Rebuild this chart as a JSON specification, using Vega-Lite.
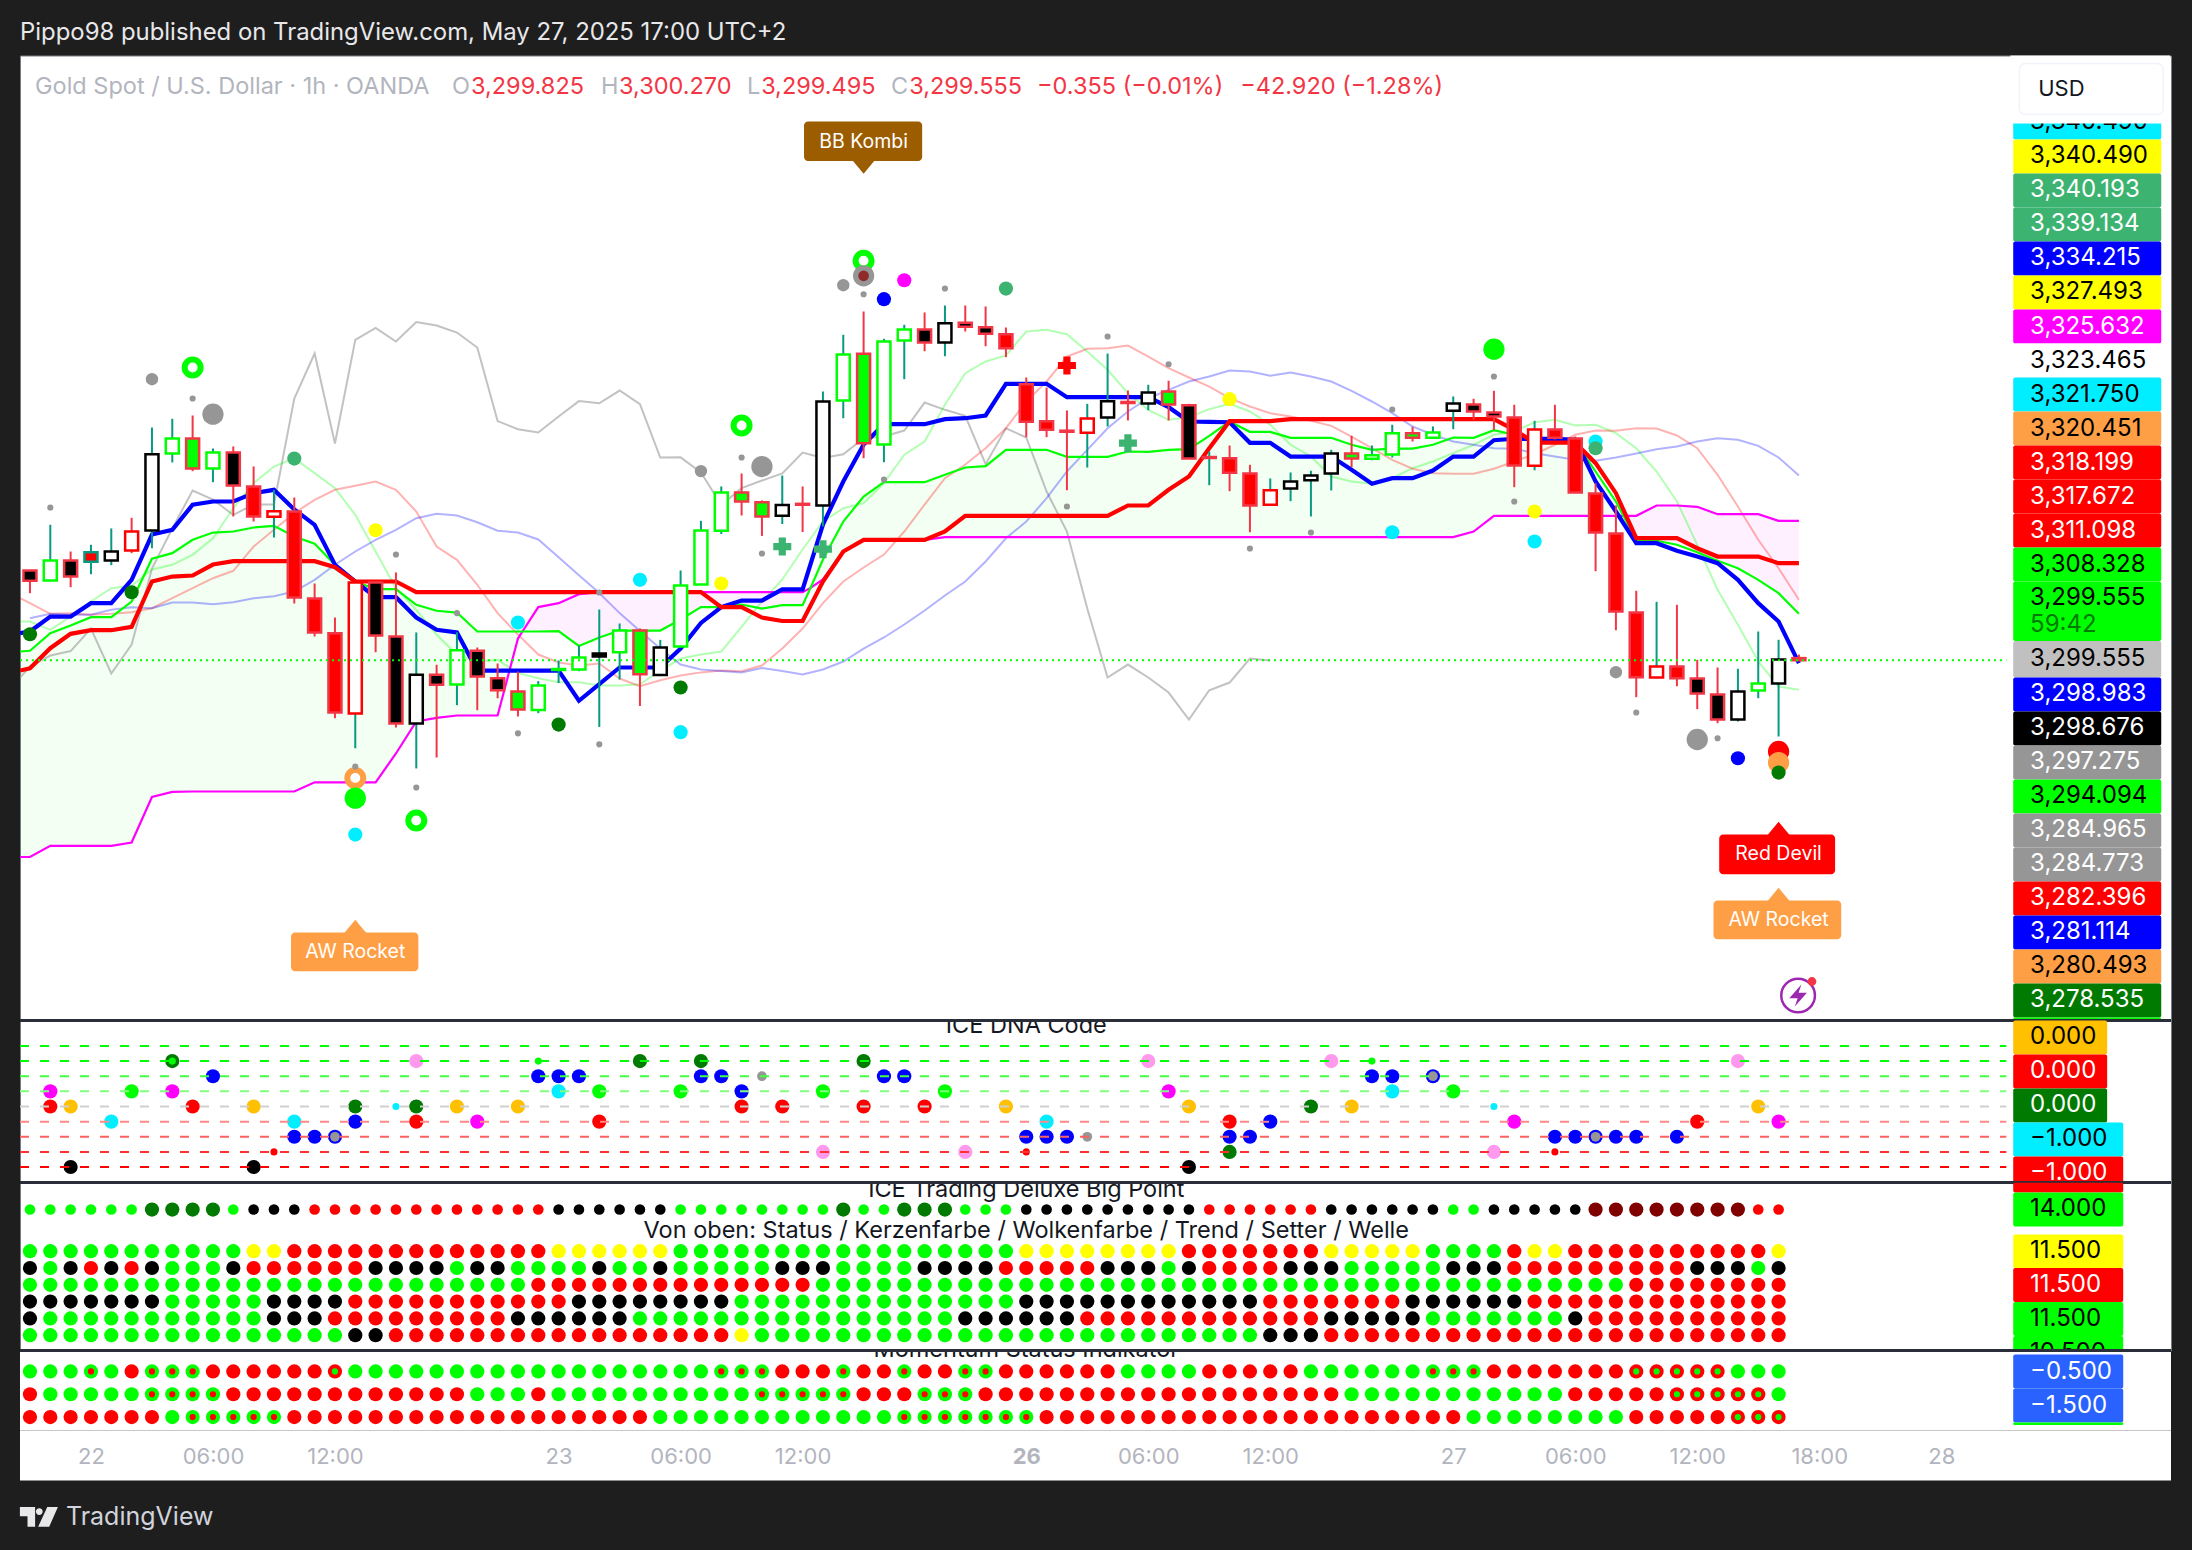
{"$schema":"https://vega.github.io/schema/vega-lite/v6.json","background":"#1e1e1e","padding":{"left":18,"right":20,"top":1.5,"bottom":0},"spacing":0,"bounds":"flush","resolve":{"scale":{"stroke":"independent","size":"independent"}},"config":{"view":{"stroke":null},"circle":{"opacity":1},"point":{"opacity":1},"text":{"font":"Inter"},"range":{"category":["#00ff00","#007a00","#ff0000","#800000","#000000","#ffffff","#ffff00","#0000ff","#ff00ff","#00eeff","#ffc000","#ff99ee","#969696","#c0c0c0","#3cb371","#ff9f45","#f23645","#089981","#9c5c00","#2962ff","#8e2a2a","#b2b5be","#00ff00","#ff0000","#000000","#ffff00","#007a00","#800000"]}},
"datasets":{
"levels":[{"row":"s1","level":6},{"row":"s2","level":5},{"row":"s3","level":4},{"row":"s4","level":3},{"row":"s5","level":2},{"row":"s6","level":1},{"row":"m1","level":3},{"row":"m2","level":2},{"row":"m3","level":1}],
"bars":[{"i":0,"o":3310.78,"h":3310.78,"l":3307.94,"c":3309.49,"f":"black","e":"rose","w":"rose"},{"i":1,"o":3309.53,"h":3316.49,"l":3309.53,"c":3312.03,"f":"white","e":"lime","w":"teal"},{"i":2,"o":3312.03,"h":3313.15,"l":3308.69,"c":3310.03,"f":"black","e":"rose","w":"rose"},{"i":3,"o":3311.86,"h":3313.99,"l":3310.31,"c":3313.06,"f":"red","e":"teal","w":"teal"},{"i":4,"o":3312.03,"h":3316.03,"l":3311.44,"c":3313.15,"f":"white","e":"black","w":"teal"},{"i":5,"o":3315.65,"h":3317.36,"l":3312.94,"c":3313.28,"f":"white","e":"red","w":"rose"},{"i":6,"o":3315.78,"h":3328.65,"l":3313.56,"c":3325.31,"f":"white","e":"black","w":"teal"},{"i":7,"o":3325.4,"h":3329.74,"l":3324.28,"c":3327.28,"f":"white","e":"lime","w":"teal"},{"i":8,"o":3327.28,"h":3330.15,"l":3323.19,"c":3323.53,"f":"lime","e":"rose","w":"rose"},{"i":9,"o":3323.53,"h":3326.03,"l":3321.81,"c":3325.53,"f":"white","e":"lime","w":"teal"},{"i":10,"o":3325.53,"h":3326.28,"l":3317.53,"c":3321.4,"f":"black","e":"rose","w":"rose"},{"i":11,"o":3321.28,"h":3323.78,"l":3316.9,"c":3317.53,"f":"red","e":"rose","w":"rose"},{"i":12,"o":3317.49,"h":3320.86,"l":3314.9,"c":3318.19,"f":"white","e":"red","w":"teal"},{"i":13,"o":3318.15,"h":3319.9,"l":3306.65,"c":3307.4,"f":"red","e":"rose","w":"rose"},{"i":14,"o":3307.28,"h":3309.15,"l":3302.53,"c":3303.03,"f":"red","e":"rose","w":"rose"},{"i":15,"o":3302.94,"h":3304.9,"l":3292.31,"c":3293.03,"f":"red","e":"rose","w":"rose"},{"i":16,"o":3292.9,"h":3309.28,"l":3288.56,"c":3309.28,"f":"white","e":"red","w":"teal"},{"i":17,"o":3309.28,"h":3309.4,"l":3300.56,"c":3302.65,"f":"black","e":"rose","w":"rose"},{"i":18,"o":3302.53,"h":3310.53,"l":3291.15,"c":3291.65,"f":"black","e":"rose","w":"rose"},{"i":19,"o":3291.65,"h":3303.03,"l":3286.03,"c":3297.74,"f":"white","e":"black","w":"teal"},{"i":20,"o":3297.74,"h":3298.99,"l":3287.4,"c":3296.49,"f":"black","e":"rose","w":"rose"},{"i":21,"o":3296.53,"h":3303.06,"l":3293.94,"c":3300.81,"f":"white","e":"lime","w":"teal"},{"i":22,"o":3300.74,"h":3301.15,"l":3293.31,"c":3297.53,"f":"black","e":"rose","w":"rose"},{"i":23,"o":3297.31,"h":3299.15,"l":3294.81,"c":3295.81,"f":"black","e":"rose","w":"rose"},{"i":24,"o":3295.65,"h":3298.15,"l":3292.53,"c":3293.4,"f":"lime","e":"rose","w":"rose"},{"i":25,"o":3293.35,"h":3296.95,"l":3292.95,"c":3296.4,"f":"white","e":"lime","w":"teal"},{"i":26,"o":3298.34,"h":3299.53,"l":3296.71,"c":3298.46,"f":"lime","e":"lime","w":"teal"},{"i":27,"o":3298.4,"h":3301.4,"l":3298.19,"c":3299.9,"f":"white","e":"lime","w":"teal"},{"i":28,"o":3300.03,"h":3305.9,"l":3291.22,"c":3300.4,"f":"black","e":"black","w":"teal"},{"i":29,"o":3300.56,"h":3304.15,"l":3297.15,"c":3303.28,"f":"white","e":"lime","w":"teal"},{"i":30,"o":3303.28,"h":3303.53,"l":3293.84,"c":3297.8,"f":"lime","e":"rose","w":"rose"},{"i":31,"o":3297.7,"h":3302.1,"l":3297.7,"c":3301.15,"f":"white","e":"black","w":"teal"},{"i":32,"o":3301.28,"h":3310.78,"l":3301.28,"c":3308.91,"f":"white","e":"lime","w":"teal"},{"i":33,"o":3309.03,"h":3316.98,"l":3309.03,"c":3315.78,"f":"white","e":"lime","w":"teal"},{"i":34,"o":3315.74,"h":3321.28,"l":3315.34,"c":3320.53,"f":"white","e":"lime","w":"teal"},{"i":35,"o":3320.53,"h":3322.9,"l":3317.65,"c":3319.4,"f":"lime","e":"rose","w":"rose"},{"i":36,"o":3319.3,"h":3319.53,"l":3315.1,"c":3317.53,"f":"lime","e":"rose","w":"rose"},{"i":37,"o":3317.61,"h":3322.65,"l":3316.58,"c":3318.95,"f":"white","e":"black","w":"teal"},{"i":38,"o":3319.11,"h":3321.28,"l":3315.59,"c":3318.99,"f":"rose","e":"rose","w":"rose"},{"i":39,"o":3318.9,"h":3333.15,"l":3316.28,"c":3331.9,"f":"white","e":"black","w":"teal"},{"i":40,"o":3332.03,"h":3340.24,"l":3329.81,"c":3337.78,"f":"white","e":"lime","w":"teal"},{"i":41,"o":3337.86,"h":3343.15,"l":3324.81,"c":3326.69,"f":"lime","e":"rose","w":"rose"},{"i":42,"o":3326.53,"h":3339.74,"l":3324.31,"c":3339.4,"f":"white","e":"lime","w":"teal"},{"i":43,"o":3339.53,"h":3341.49,"l":3334.69,"c":3340.9,"f":"white","e":"lime","w":"teal"},{"i":44,"o":3340.9,"h":3343.03,"l":3338.19,"c":3339.28,"f":"black","e":"rose","w":"rose"},{"i":45,"o":3339.28,"h":3343.9,"l":3337.56,"c":3341.69,"f":"white","e":"black","w":"teal"},{"i":46,"o":3341.74,"h":3343.9,"l":3340.65,"c":3341.24,"f":"black","e":"rose","w":"rose"},{"i":47,"o":3341.19,"h":3343.78,"l":3338.81,"c":3340.36,"f":"black","e":"rose","w":"rose"},{"i":48,"o":3340.31,"h":3341.15,"l":3337.44,"c":3338.56,"f":"red","e":"rose","w":"rose"},{"i":49,"o":3334.06,"h":3334.9,"l":3327.44,"c":3329.36,"f":"red","e":"rose","w":"rose"},{"i":50,"o":3329.44,"h":3333.65,"l":3327.44,"c":3328.36,"f":"red","e":"rose","w":"rose"},{"i":51,"o":3328.25,"h":3330.78,"l":3320.81,"c":3328.12,"f":"rose","e":"rose","w":"rose"},{"i":52,"o":3327.99,"h":3331.61,"l":3323.65,"c":3329.78,"f":"white","e":"red","w":"teal"},{"i":53,"o":3329.9,"h":3337.9,"l":3328.78,"c":3331.94,"f":"white","e":"black","w":"teal"},{"i":54,"o":3331.84,"h":3333.28,"l":3329.53,"c":3331.71,"f":"rose","e":"rose","w":"rose"},{"i":55,"o":3331.65,"h":3333.99,"l":3330.81,"c":3333.03,"f":"white","e":"black","w":"teal"},{"i":56,"o":3333.15,"h":3334.49,"l":3329.53,"c":3331.53,"f":"lime","e":"rose","w":"rose"},{"i":57,"o":3331.44,"h":3331.61,"l":3324.78,"c":3324.78,"f":"black","e":"rose","w":"rose"},{"i":58,"o":3324.96,"h":3325.65,"l":3321.44,"c":3324.84,"f":"rose","e":"rose","w":"teal"},{"i":59,"o":3324.81,"h":3326.4,"l":3320.69,"c":3322.99,"f":"red","e":"rose","w":"rose"},{"i":60,"o":3322.9,"h":3323.99,"l":3315.56,"c":3318.9,"f":"red","e":"rose","w":"rose"},{"i":61,"o":3318.99,"h":3322.28,"l":3318.99,"c":3320.81,"f":"white","e":"red","w":"teal"},{"i":62,"o":3321.03,"h":3323.03,"l":3319.44,"c":3321.9,"f":"white","e":"black","w":"teal"},{"i":63,"o":3322.06,"h":3323.24,"l":3317.53,"c":3322.65,"f":"white","e":"black","w":"teal"},{"i":64,"o":3322.9,"h":3325.86,"l":3320.78,"c":3325.4,"f":"white","e":"black","w":"teal"},{"i":65,"o":3325.4,"h":3327.61,"l":3323.69,"c":3324.78,"f":"lime","e":"rose","w":"rose"},{"i":66,"o":3324.74,"h":3326.4,"l":3324.56,"c":3325.19,"f":"white","e":"lime","w":"teal"},{"i":67,"o":3325.28,"h":3328.99,"l":3324.9,"c":3327.94,"f":"white","e":"lime","w":"teal"},{"i":68,"o":3327.94,"h":3328.74,"l":3326.9,"c":3327.36,"f":"lime","e":"rose","w":"rose"},{"i":69,"o":3327.36,"h":3328.78,"l":3327.36,"c":3328.03,"f":"white","e":"lime","w":"teal"},{"i":70,"o":3330.74,"h":3332.53,"l":3328.44,"c":3331.65,"f":"white","e":"black","w":"teal"},{"i":71,"o":3331.53,"h":3332.24,"l":3329.61,"c":3330.65,"f":"black","e":"rose","w":"rose"},{"i":72,"o":3330.53,"h":3333.24,"l":3328.36,"c":3330.03,"f":"black","e":"rose","w":"rose"},{"i":73,"o":3329.9,"h":3331.49,"l":3321.19,"c":3323.9,"f":"red","e":"rose","w":"rose"},{"i":74,"o":3323.86,"h":3329.49,"l":3323.31,"c":3328.4,"f":"white","e":"red","w":"teal"},{"i":75,"o":3328.4,"h":3331.49,"l":3327.15,"c":3327.36,"f":"red","e":"rose","w":"rose"},{"i":76,"o":3327.28,"h":3327.53,"l":3320.53,"c":3320.53,"f":"red","e":"rose","w":"rose"},{"i":77,"o":3320.4,"h":3321.69,"l":3310.69,"c":3315.53,"f":"red","e":"rose","w":"rose"},{"i":78,"o":3315.4,"h":3318.9,"l":3303.31,"c":3305.65,"f":"red","e":"rose","w":"rose"},{"i":79,"o":3305.53,"h":3308.24,"l":3294.94,"c":3297.44,"f":"red","e":"rose","w":"rose"},{"i":80,"o":3297.4,"h":3306.86,"l":3297.4,"c":3298.78,"f":"white","e":"red","w":"teal"},{"i":81,"o":3298.78,"h":3306.49,"l":3296.31,"c":3297.31,"f":"red","e":"rose","w":"rose"},{"i":82,"o":3297.28,"h":3299.61,"l":3293.44,"c":3295.4,"f":"black","e":"rose","w":"rose"},{"i":83,"o":3295.28,"h":3298.65,"l":3291.69,"c":3292.15,"f":"black","e":"rose","w":"rose"},{"i":84,"o":3292.15,"h":3298.49,"l":3291.9,"c":3295.65,"f":"white","e":"black","w":"teal"},{"i":85,"o":3295.78,"h":3303.15,"l":3294.81,"c":3296.65,"f":"white","e":"lime","w":"teal"},{"i":86,"o":3296.65,"h":3302.11,"l":3290.03,"c":3299.65,"f":"white","e":"black","w":"teal"},{"i":87,"o":3299.825,"h":3300.27,"l":3299.495,"c":3299.555,"f":"rose","e":"rose","w":"rose"}],
"lines":[{"i":-0.49,"blue":3302.94,"lime":3300.65,"red":3298.27,"mag":3274.96,"lg":3304.4,"lr":3307.31,"gray":3297.4},
{"i":0,"blue":3303.15,"lime":3300.74,"red":3298.56,"mag":3274.96,"lg":3304.4,"lr":3306.69,"lb":3304.81,"gray":3298.77},
{"i":1,"blue":3305.02,"lime":3302.94,"red":3301.06,"mag":3276.35,"lg":3303.36,"lr":3305.36,"lb":3305.36,"gray":3300.15},
{"i":2,"blue":3305.02,"lime":3303.9,"red":3302.86,"mag":3276.35,"lg":3305.02,"lr":3305.44,"lb":3305.24,"gray":3300.7},
{"i":3,"blue":3306.69,"lime":3304.94,"red":3303.31,"mag":3276.35,"lg":3306.9,"lr":3305.24,"lb":3305.24,"gray":3303.52},
{"i":4,"blue":3306.69,"lime":3304.94,"red":3303.31,"mag":3276.35,"lg":3308.56,"lr":3305.36,"lb":3305.86,"gray":3297.9},
{"i":5,"blue":3309.61,"lime":3306.9,"red":3303.74,"mag":3276.77,"lg":3308.86,"lr":3305.56,"lb":3306.19,"gray":3301.52},
{"i":6,"blue":3315.27,"lime":3312.24,"red":3309.4,"mag":3282.47,"lg":3310.9,"lr":3306.06,"lb":3306.06,"gray":3311.02},
{"i":7,"blue":3315.86,"lime":3312.94,"red":3310.02,"mag":3283.11,"lg":3311.49,"lr":3307.31,"lb":3306.77,"gray":3316.02},
{"i":8,"blue":3318.99,"lime":3314.61,"red":3310.15,"mag":3283.15,"lg":3312.74,"lr":3308.56,"lb":3306.77,"gray":3320.77},
{"i":9,"blue":3319.4,"lime":3315.52,"red":3311.52,"mag":3283.15,"lg":3314.81,"lr":3309.81,"lb":3306.56,"gray":3319.65},
{"i":10,"blue":3319.4,"lime":3315.65,"red":3311.94,"mag":3283.15,"lg":3318.56,"lr":3310.74,"lb":3306.81,"gray":3317.72},
{"i":11,"blue":3320.44,"lime":3316.15,"red":3311.94,"mag":3283.15,"lg":3321.69,"lr":3313.77,"lb":3307.31,"gray":3319.02},
{"i":12,"blue":3320.86,"lime":3316.36,"red":3311.94,"mag":3283.15,"lg":3323.77,"lr":3315.86,"lb":3307.56,"gray":3319.02},
{"i":13,"blue":3318.4,"lime":3315.02,"red":3311.94,"mag":3283.15,"lg":3324.81,"lr":3317.94,"lb":3308.15,"gray":3332.27},
{"i":14,"blue":3316.49,"lime":3314.11,"red":3311.94,"mag":3284.3,"lg":3322.94,"lr":3319.61,"lb":3309.61,"gray":3337.9},
{"i":15,"blue":3311.49,"lime":3311.49,"red":3311.19,"mag":3284.3,"lg":3321.06,"lr":3320.86,"lb":3311.49,"gray":3326.65},
{"i":16,"blue":3309.4,"lime":3309.4,"red":3309.4,"mag":3284.3,"lg":3317.74,"lr":3321.36,"lb":3313.15,"gray":3339.6},
{"i":17,"blue":3307.44,"lime":3308.44,"red":3309.4,"mag":3284.3,"lg":3313.15,"lr":3321.9,"lb":3314.61,"gray":3341.11},
{"i":18,"blue":3307.44,"lime":3308.44,"red":3309.4,"mag":3287.9,"lg":3308.56,"lr":3320.86,"lb":3315.86,"gray":3339.4},
{"i":19,"blue":3304.9,"lime":3306.49,"red":3308.07,"mag":3291.9,"lg":3305.86,"lr":3318.15,"lb":3317.31,"gray":3341.84},
{"i":20,"blue":3303.36,"lime":3305.74,"red":3308.07,"mag":3292.36,"lg":3302.74,"lr":3313.77,"lb":3317.86,"gray":3341.4},
{"i":21,"blue":3303.02,"lime":3305.52,"red":3308.07,"mag":3292.65,"lg":3300.24,"lr":3312.11,"lb":3317.65,"gray":3340.52},
{"i":22,"blue":3298.27,"lime":3303.15,"red":3308.07,"mag":3292.65,"lg":3299.4,"lr":3308.99,"lb":3316.81,"gray":3338.65},
{"i":23,"blue":3298.27,"lime":3303.15,"red":3308.07,"mag":3292.65,"lg":3299.61,"lr":3305.44,"lb":3315.74,"gray":3329.45},
{"i":24,"blue":3298.27,"lime":3303.15,"red":3308.07,"mag":3302.27,"lg":3297.94,"lr":3302.77,"lb":3315.52,"gray":3328.44},
{"i":24.22,"lime":3303.15,"mag":3303.15},
{"i":25,"blue":3298.27,"lime":3303.15,"red":3308.07,"mag":3306.2,"lg":3297.3,"lr":3300.27,"lb":3314.65,"gray":3328.02},
{"i":26,"blue":3298.27,"lime":3303.19,"red":3308.07,"mag":3306.69,"lg":3296.81,"lr":3299.27,"lb":3312.42,"gray":3330.02},
{"i":27,"blue":3294.49,"lime":3301.35,"red":3308.07,"mag":3307.82,"lg":3296.81,"lr":3298.9,"lb":3310.19,"gray":3331.95},
{"i":28,"blue":3296.56,"lime":3302.4,"red":3308.07,"mag":3308.07,"lg":3296.4,"lr":3299.15,"lb":3307.96,"gray":3331.67},
{"i":29,"blue":3298.65,"lime":3303.27,"red":3308.07,"mag":3308.07,"lg":3296.4,"lr":3297.27,"lb":3305.45,"gray":3333.27},
{"i":30,"blue":3298.65,"lime":3303.27,"red":3308.07,"mag":3308.07,"lg":3296.56,"lr":3296.31,"lb":3303.21,"gray":3331.56},
{"i":31,"blue":3298.65,"lime":3303.27,"red":3308.07,"mag":3308.07,"lg":3298.27,"lr":3297.05,"lb":3301.02,"gray":3324.9},
{"i":32,"blue":3301.02,"lime":3304.65,"red":3308.07,"mag":3308.07,"lg":3299.77,"lr":3297.65,"lb":3299.02,"gray":3324.92},
{"i":33,"blue":3304.22,"lime":3306.2,"red":3308.07,"mag":3308.07,"lg":3300.27,"lr":3298.04,"lb":3298.4,"gray":3323.02},
{"i":34,"blue":3306.2,"lime":3306.2,"red":3306.2,"mag":3308.07,"lg":3300.65,"lr":3298.27,"lb":3298.2,"gray":3318.95},
{"i":35,"blue":3307.02,"lime":3306.52,"red":3306.2,"mag":3308.07,"lg":3303.72,"lr":3298.19,"lb":3298.02,"gray":3321.07},
{"i":36,"blue":3307.02,"lime":3306.02,"red":3304.9,"mag":3308.07,"lg":3306.9,"lr":3298.9,"lb":3298.59,"gray":3322.02},
{"i":37,"blue":3308.42,"lime":3306.45,"red":3304.46,"mag":3308.07,"lg":3309.65,"lr":3301.02,"lb":3298.2,"gray":3322.9},
{"i":38,"blue":3308.42,"lime":3306.45,"red":3304.46,"mag":3308.07,"lg":3313.4,"lr":3303.52,"lb":3297.77,"gray":3325.52},
{"i":38.39,"lime":3308.6,"mag":3308.6},
{"i":39,"blue":3316.52,"lime":3312.15,"red":3309.4,"mag":3309.65,"lg":3316.9,"lr":3306.69,"lb":3298.4,"gray":3324.84},
{"i":40,"blue":3321.9,"lime":3316.9,"red":3313.15,"mag":3313.15,"lg":3318.56,"lr":3309.4,"lb":3299.4,"gray":3325.31},
{"i":41,"blue":3326.52,"lime":3320.02,"red":3314.61,"mag":3314.61,"lg":3319.19,"lr":3311.15,"lb":3301.02,"gray":3327.31},
{"i":42,"blue":3329.06,"lime":3321.81,"red":3314.61,"mag":3314.61,"lg":3321.69,"lr":3312.77,"lb":3302.4,"gray":3327.52},
{"i":43,"blue":3329.06,"lime":3321.81,"red":3314.61,"mag":3314.61,"lg":3325.24,"lr":3315.65,"lb":3304.02,"gray":3328.27},
{"i":44,"blue":3329.06,"lime":3321.81,"red":3314.61,"mag":3314.61,"lg":3326.9,"lr":3319.02,"lb":3305.77,"gray":3331.77},
{"i":45,"blue":3329.69,"lime":3322.74,"red":3315.65,"mag":3314.94,"lg":3331.49,"lr":3322.31,"lb":3307.65,"gray":3330.86},
{"i":46,"blue":3329.81,"lime":3323.65,"red":3317.61,"mag":3314.94,"lg":3335.44,"lr":3324.02,"lb":3309.4,"gray":3330.11},
{"i":47,"blue":3330.15,"lime":3323.81,"red":3317.61,"mag":3314.94,"lg":3336.9,"lr":3326.06,"lb":3311.9,"gray":3324.06},
{"i":48,"blue":3334.11,"lime":3325.86,"red":3317.61,"mag":3314.94,"lg":3337.65,"lr":3328.56,"lb":3314.81,"gray":3328.56},
{"i":49,"blue":3334.11,"lime":3325.86,"red":3317.61,"mag":3314.94,"lg":3340.65,"lr":3331.9,"lb":3316.9,"gray":3327.4},
{"i":50,"blue":3334.11,"lime":3325.86,"red":3317.61,"mag":3314.94,"lg":3340.86,"lr":3334.4,"lb":3319.81,"gray":3320.65},
{"i":51,"blue":3332.44,"lime":3324.99,"red":3317.61,"mag":3314.94,"lg":3340.31,"lr":3337.52,"lb":3323.15,"gray":3315.65},
{"i":52,"blue":3332.44,"lime":3324.99,"red":3317.61,"mag":3314.94,"lg":3338.15,"lr":3338.49,"lb":3325.86,"gray":3306.02},
{"i":53,"blue":3332.44,"lime":3324.99,"red":3317.61,"mag":3314.94,"lg":3335.86,"lr":3338.56,"lb":3328.56,"gray":3297.4},
{"i":54,"blue":3332.44,"lime":3325.65,"red":3318.9,"mag":3314.94,"lg":3332.94,"lr":3338.9,"lb":3330.65,"gray":3299.02},
{"i":55,"blue":3332.44,"lime":3325.61,"red":3318.9,"mag":3314.94,"lg":3330.86,"lr":3337.52,"lb":3332.31,"gray":3297.4},
{"i":56,"blue":3331.19,"lime":3325.86,"red":3320.86,"mag":3314.94,"lg":3329.61,"lr":3336.06,"lb":3333.36,"gray":3295.52},
{"i":57,"blue":3329.4,"lime":3325.94,"red":3322.52,"mag":3314.94,"lg":3329.94,"lr":3334.9,"lb":3334.4,"gray":3292.15},
{"i":58,"blue":3329.36,"lime":3327.61,"red":3326.06,"mag":3314.94,"lg":3330.94,"lr":3333.77,"lb":3335.02,"gray":3295.8},
{"i":59,"blue":3329.31,"lime":3329.4,"red":3329.44,"mag":3314.94,"lg":3331.61,"lr":3332.31,"lb":3335.77,"gray":3296.77},
{"i":60,"blue":3326.74,"lime":3328.11,"red":3329.44,"mag":3314.94,"lg":3330.65,"lr":3331.27,"lb":3335.65,"gray":3299.77},
{"i":61,"blue":3326.74,"lime":3328.11,"red":3329.44,"mag":3314.94,"lg":3328.99,"lr":3330.44,"lb":3335.11,"gray":3299.52},
{"i":62,"blue":3325.02,"lime":3327.36,"red":3329.69,"mag":3314.94,"lg":3326.49,"lr":3330.02,"lb":3335.52},
{"i":63,"blue":3325.02,"lime":3327.36,"red":3329.69,"mag":3314.94,"lg":3325.02,"lr":3329.49,"lb":3335.02},
{"i":64,"blue":3325.02,"lime":3327.36,"red":3329.69,"mag":3314.94,"lg":3322.52,"lr":3328.86,"lb":3334.4},
{"i":65,"blue":3323.36,"lime":3326.49,"red":3329.69,"mag":3314.94,"lg":3321.9,"lr":3327.52,"lb":3333.24},
{"i":66,"blue":3321.61,"lime":3325.86,"red":3329.69,"mag":3314.94,"lg":3321.61,"lr":3326.06,"lb":3331.9},
{"i":67,"blue":3322.31,"lime":3326.02,"red":3329.69,"mag":3314.94,"lg":3322.31,"lr":3324.61,"lb":3330.44},
{"i":68,"blue":3322.31,"lime":3326.02,"red":3329.69,"mag":3314.94,"lg":3323.56,"lr":3323.49,"lb":3328.77},
{"i":69,"blue":3323.27,"lime":3326.49,"red":3329.69,"mag":3314.94,"lg":3324.4,"lr":3322.94,"lb":3327.74},
{"i":70,"blue":3325.02,"lime":3327.4,"red":3329.69,"mag":3314.94,"lg":3325.44,"lr":3322.86,"lb":3326.9},
{"i":71,"blue":3325.02,"lime":3327.36,"red":3329.69,"mag":3315.65,"lg":3326.49,"lr":3322.86,"lb":3326.49},
{"i":72,"blue":3327.06,"lime":3328.31,"red":3329.69,"mag":3317.61,"lg":3327.74,"lr":3323.49,"lb":3326.06},
{"i":73,"blue":3327.24,"lime":3327.74,"red":3328.36,"mag":3317.61,"lg":3328.15,"lr":3324.4,"lb":3325.99},
{"i":74,"blue":3327.24,"lime":3326.99,"red":3326.77,"mag":3317.61,"lg":3329.31,"lr":3325.31,"lb":3325.44},
{"i":75,"blue":3327.24,"lime":3326.99,"red":3326.77,"mag":3317.61,"lg":3329.61,"lr":3326.49,"lb":3325.02},
{"i":76,"blue":3327.11,"lime":3326.9,"red":3326.77,"mag":3317.61,"lg":3328.9,"lr":3327.74,"lb":3324.61},
{"i":77,"blue":3321.9,"lime":3323.15,"red":3324.19,"mag":3317.61,"lg":3328.99,"lr":3328.27,"lb":3324.49},
{"i":78,"blue":3318.15,"lime":3319.4,"red":3320.44,"mag":3317.61,"lg":3327.94,"lr":3328.24,"lb":3324.9},
{"i":78.37,"lime":3317.61,"mag":3317.61},
{"i":79,"blue":3314.19,"lime":3314.61,"red":3314.81,"mag":3317.61,"lg":3326.06,"lr":3328.56,"lb":3325.4},
{"i":80,"blue":3314.19,"lime":3314.49,"red":3314.81,"mag":3318.9,"lg":3323.15,"lr":3328.52,"lb":3325.94},
{"i":81,"blue":3313.24,"lime":3313.99,"red":3314.81,"mag":3318.9,"lg":3319.4,"lr":3327.65,"lb":3326.27},
{"i":82,"blue":3312.52,"lime":3313.06,"red":3313.56,"mag":3318.74,"lg":3313.99,"lr":3326.06,"lb":3326.9},
{"i":83,"blue":3311.69,"lime":3311.99,"red":3312.52,"mag":3317.81,"lg":3308.36,"lr":3322.74,"lb":3327.31},
{"i":84,"blue":3309.61,"lime":3311.06,"red":3312.52,"mag":3317.81,"lg":3303.99,"lr":3318.77,"lb":3327.11},
{"i":85,"blue":3306.69,"lime":3309.61,"red":3312.52,"mag":3317.81,"lg":3299.4,"lr":3314.61,"lb":3326.36},
{"i":86,"blue":3304.4,"lime":3307.94,"red":3311.69,"mag":3316.99,"lg":3296.27,"lr":3311.06,"lb":3324.9},
{"i":87,"blue":3299.19,"lime":3305.36,"red":3311.69,"mag":3316.99,"lg":3295.86,"lr":3307.11,"lb":3322.65}],
"marks":[{"i":1,"p":3318.65,"t":"gray","k":"small"},{"i":8,"p":3332.27,"t":"gray","k":"small"},{"i":18,"p":3312.77,"t":"gray","k":"small"},{"i":21,"p":3305.45,"t":"gray","k":"small"},{"i":35,"p":3324.9,"t":"gray","k":"small"},{"i":36,"p":3312.9,"t":"gray","k":"small"},{"i":42,"p":3322.15,"t":"gray","k":"small"},{"i":41,"p":3345.31,"t":"gray","k":"small"},{"i":45,"p":3346.02,"t":"gray","k":"small"},{"i":24,"p":3290.42,"t":"gray","k":"small"},{"i":28,"p":3289.05,"t":"gray","k":"small"},{"i":16,"p":3286.27,"t":"gray","k":"small"},{"i":19,"p":3283.65,"t":"gray","k":"small"},{"i":28,"p":3308.02,"t":"gray","k":"small"},{"i":53,"p":3340.02,"t":"gray","k":"small"},{"i":51,"p":3318.77,"t":"gray","k":"small"},{"i":56,"p":3336.56,"t":"gray","k":"small"},{"i":60,"p":3313.52,"t":"gray","k":"small"},{"i":63,"p":3315.52,"t":"gray","k":"small"},{"i":67,"p":3330.9,"t":"gray","k":"small"},{"i":72,"p":3335.02,"t":"gray","k":"small"},{"i":73,"p":3319.4,"t":"gray","k":"small"},{"i":79,"p":3293.02,"t":"gray","k":"small"},{"i":83,"p":3289.81,"t":"gray","k":"small"},{"i":6,"p":3334.69,"t":"gray","k":"mid"},{"i":33,"p":3323.2,"t":"gray","k":"mid"},{"i":40,"p":3346.44,"t":"gray","k":"mid"},{"i":78,"p":3298.06,"t":"gray","k":"mid"},{"i":9,"p":3330.31,"t":"gray","k":"large"},{"i":36,"p":3323.77,"t":"gray","k":"large"},{"i":41,"p":3347.61,"t":"gray","k":"large"},{"i":82,"p":3289.65,"t":"gray","k":"large"},{"i":41,"p":3347.61,"t":"wine","k":"inner"},{"i":16,"p":3282.32,"t":"lime","k":"large"},{"i":72,"p":3338.44,"t":"lime","k":"large"},{"i":16,"p":3277.77,"t":"cyan","k":"dot"},{"i":24,"p":3304.27,"t":"cyan","k":"dot"},{"i":30,"p":3309.61,"t":"cyan","k":"dot"},{"i":32,"p":3290.57,"t":"cyan","k":"dot"},{"i":67,"p":3315.56,"t":"cyan","k":"dot"},{"i":74,"p":3314.4,"t":"cyan","k":"dot"},{"i":77,"p":3326.9,"t":"cyan","k":"dot"},{"i":0,"p":3302.81,"t":"green","k":"dot"},{"i":5,"p":3308.06,"t":"green","k":"dot"},{"i":26,"p":3291.52,"t":"green","k":"dot"},{"i":32,"p":3296.15,"t":"green","k":"dot"},{"i":17,"p":3315.81,"t":"yellow","k":"dot"},{"i":34,"p":3309.15,"t":"yellow","k":"dot"},{"i":59,"p":3332.19,"t":"yellow","k":"dot"},{"i":74,"p":3318.15,"t":"yellow","k":"dot"},{"i":13,"p":3324.77,"t":"sea","k":"dot"},{"i":48,"p":3346.02,"t":"sea","k":"dot"},{"i":77,"p":3326.06,"t":"sea","k":"dot"},{"i":43,"p":3347.06,"t":"magenta","k":"dot"},{"i":42,"p":3344.69,"t":"blue","k":"dot"},{"i":84,"p":3287.31,"t":"blue","k":"dot"},{"i":86,"p":3288.15,"t":"red","k":"large"},{"i":86,"p":3286.77,"t":"orange","k":"large"},{"i":86,"p":3285.52,"t":"green","k":"dot"}],
"rings":[{"i":8,"p":3336.15,"t":"lime"},{"i":35,"p":3328.9,"t":"lime"},{"i":41,"p":3349.49,"t":"lime"},{"i":19,"p":3279.52,"t":"lime"},{"i":16,"p":3284.85,"t":"orange"}],
"crosses":[{"i":37,"p":3313.77,"t":"sea"},{"i":39,"p":3313.44,"t":"sea"},{"i":54,"p":3326.69,"t":"sea"},{"i":51,"p":3336.4,"t":"red"}],
"flags":[{"label":"BB Kombi","i":41,"left":38.07,"right":43.88,"top":3366.9,"bot":3361.97,"mid":3364.4,"t":"brown"},{"label":"Red Devil","i":86,"left":83.08,"right":88.78,"top":3277.77,"bot":3272.81,"mid":3275.3,"t":"red"},{"label":"AW Rocket","i":86,"left":82.8,"right":89.08,"top":3269.52,"bot":3264.69,"mid":3267.1,"t":"orange"},{"label":"AW Rocket","i":16,"left":12.84,"right":19.1,"top":3265.52,"bot":3260.67,"mid":3263.1,"t":"orange"}],
"legend":[{"text":"Gold Spot / U.S. Dollar · 1h · OANDA","i":0.25,"ink":"muted"},{"text":"O","i":20.76,"ink":"muted"},{"text":"3,299.825","i":21.69,"ink":"rose"},{"text":"H","i":28.09,"ink":"muted"},{"text":"3,300.270","i":28.97,"ink":"rose"},{"text":"L","i":35.27,"ink":"muted"},{"text":"3,299.495","i":35.96,"ink":"rose"},{"text":"C","i":42.35,"ink":"muted"},{"text":"3,299.555","i":43.24,"ink":"rose"},{"text":"−0.355 (−0.01%)","i":49.53,"ink":"rose"},{"text":"−42.920 (−1.28%)","i":59.52,"ink":"rose"}],
"pricelabels":[{"label":"3,340.490","a":1.47,"b":2.47,"m":1.97,"t":"cyan","ink":"black"},{"label":"3,340.490","a":2.47,"b":3.47,"m":2.97,"t":"yellow","ink":"black"},{"label":"3,340.193","a":3.47,"b":4.47,"m":3.97,"t":"sea","ink":"white"},{"label":"3,339.134","a":4.47,"b":5.47,"m":4.97,"t":"sea","ink":"white"},{"label":"3,334.215","a":5.47,"b":6.47,"m":5.97,"t":"blue","ink":"white"},{"label":"3,327.493","a":6.47,"b":7.47,"m":6.97,"t":"yellow","ink":"black"},{"label":"3,325.632","a":7.47,"b":8.47,"m":7.97,"t":"magenta","ink":"white"},{"label":"3,323.465","a":8.47,"b":9.47,"m":8.97,"t":"white","ink":"black"},{"label":"3,321.750","a":9.47,"b":10.47,"m":9.97,"t":"cyan","ink":"black"},{"label":"3,320.451","a":10.47,"b":11.47,"m":10.97,"t":"orange","ink":"black"},{"label":"3,318.199","a":11.47,"b":12.47,"m":11.97,"t":"red","ink":"white"},{"label":"3,317.672","a":12.47,"b":13.47,"m":12.97,"t":"red","ink":"white"},{"label":"3,311.098","a":13.47,"b":14.47,"m":13.97,"t":"red","ink":"white"},{"label":"3,308.328","a":14.47,"b":15.47,"m":14.97,"t":"lime","ink":"black"},{"label":"3,299.555","a":15.47,"b":17.22,"m":15.94,"t":"lime","ink":"black"},{"label":"3,299.555","a":17.22,"b":18.29,"m":17.75,"t":"silver","ink":"black"},{"label":"3,298.983","a":18.29,"b":19.29,"m":18.79,"t":"blue","ink":"white"},{"label":"3,298.676","a":19.29,"b":20.29,"m":19.79,"t":"black","ink":"white"},{"label":"3,297.275","a":20.29,"b":21.29,"m":20.79,"t":"gray","ink":"white"},{"label":"3,294.094","a":21.29,"b":22.29,"m":21.79,"t":"lime","ink":"black"},{"label":"3,284.965","a":22.29,"b":23.29,"m":22.79,"t":"gray","ink":"white"},{"label":"3,284.773","a":23.29,"b":24.29,"m":23.79,"t":"gray","ink":"white"},{"label":"3,282.396","a":24.29,"b":25.29,"m":24.79,"t":"red","ink":"white"},{"label":"3,281.114","a":25.29,"b":26.29,"m":25.79,"t":"blue","ink":"white"},{"label":"3,280.493","a":26.29,"b":27.29,"m":26.79,"t":"orange","ink":"black"},{"label":"3,278.535","a":27.29,"b":28.29,"m":27.79,"t":"green","ink":"white"},{"label":"","a":28.29,"b":28.38,"m":28.3,"t":"lime","ink":"black"},{"label":"59:42","a":16.75,"b":16.75,"m":16.75,"t":"lime","ink":"green"}],
"dna":[{"i":7,"v":3,"t":"green","k":"dot"},{"i":7,"v":3,"t":"lime","k":"small"},{"i":19,"v":3,"t":"pink","k":"dot"},{"i":25,"v":3,"t":"lime","k":"small"},{"i":30,"v":3,"t":"green","k":"dot"},{"i":33,"v":3,"t":"green","k":"dot"},{"i":41,"v":3,"t":"green","k":"dot"},{"i":55,"v":3,"t":"pink","k":"dot"},{"i":64,"v":3,"t":"pink","k":"dot"},{"i":66,"v":3,"t":"lime","k":"small"},{"i":84,"v":3,"t":"pink","k":"dot"},{"i":9,"v":2,"t":"blue","k":"dot"},{"i":25,"v":2,"t":"blue","k":"dot"},{"i":26,"v":2,"t":"blue","k":"dot"},{"i":27,"v":2,"t":"blue","k":"dot"},{"i":33,"v":2,"t":"blue","k":"dot"},{"i":34,"v":2,"t":"blue","k":"dot"},{"i":36,"v":2,"t":"gray","k":"mid"},{"i":42,"v":2,"t":"blue","k":"dot"},{"i":43,"v":2,"t":"blue","k":"dot"},{"i":66,"v":2,"t":"blue","k":"dot"},{"i":67,"v":2,"t":"blue","k":"dot"},{"i":69,"v":2,"t":"blue","k":"dot"},{"i":69,"v":2,"t":"gray","k":"mid"},{"i":1,"v":1,"t":"magenta","k":"dot"},{"i":5,"v":1,"t":"lime","k":"dot"},{"i":7,"v":1,"t":"magenta","k":"dot"},{"i":26,"v":1,"t":"cyan","k":"dot"},{"i":28,"v":1,"t":"lime","k":"dot"},{"i":32,"v":1,"t":"lime","k":"dot"},{"i":35,"v":1,"t":"blue","k":"dot"},{"i":39,"v":1,"t":"lime","k":"dot"},{"i":45,"v":1,"t":"lime","k":"dot"},{"i":56,"v":1,"t":"magenta","k":"dot"},{"i":67,"v":1,"t":"cyan","k":"dot"},{"i":70,"v":1,"t":"lime","k":"dot"},{"i":1,"v":0,"t":"red","k":"dot"},{"i":2,"v":0,"t":"amber","k":"dot"},{"i":8,"v":0,"t":"red","k":"dot"},{"i":11,"v":0,"t":"amber","k":"dot"},{"i":16,"v":0,"t":"green","k":"dot"},{"i":18,"v":0,"t":"cyan","k":"small"},{"i":19,"v":0,"t":"green","k":"dot"},{"i":21,"v":0,"t":"amber","k":"dot"},{"i":24,"v":0,"t":"amber","k":"dot"},{"i":35,"v":0,"t":"red","k":"dot"},{"i":37,"v":0,"t":"red","k":"dot"},{"i":41,"v":0,"t":"red","k":"dot"},{"i":44,"v":0,"t":"red","k":"dot"},{"i":48,"v":0,"t":"amber","k":"dot"},{"i":57,"v":0,"t":"amber","k":"dot"},{"i":63,"v":0,"t":"green","k":"dot"},{"i":65,"v":0,"t":"amber","k":"dot"},{"i":72,"v":0,"t":"cyan","k":"small"},{"i":85,"v":0,"t":"amber","k":"dot"},{"i":4,"v":-1,"t":"cyan","k":"dot"},{"i":13,"v":-1,"t":"cyan","k":"dot"},{"i":16,"v":-1,"t":"blue","k":"dot"},{"i":19,"v":-1,"t":"red","k":"dot"},{"i":22,"v":-1,"t":"magenta","k":"dot"},{"i":28,"v":-1,"t":"red","k":"dot"},{"i":50,"v":-1,"t":"cyan","k":"dot"},{"i":59,"v":-1,"t":"red","k":"dot"},{"i":61,"v":-1,"t":"blue","k":"dot"},{"i":73,"v":-1,"t":"magenta","k":"dot"},{"i":82,"v":-1,"t":"red","k":"dot"},{"i":86,"v":-1,"t":"magenta","k":"dot"},{"i":13,"v":-2,"t":"blue","k":"dot"},{"i":14,"v":-2,"t":"blue","k":"dot"},{"i":15,"v":-2,"t":"blue","k":"dot"},{"i":15,"v":-2,"t":"gray","k":"mid"},{"i":49,"v":-2,"t":"blue","k":"dot"},{"i":50,"v":-2,"t":"blue","k":"dot"},{"i":51,"v":-2,"t":"blue","k":"dot"},{"i":52,"v":-2,"t":"gray","k":"mid"},{"i":59,"v":-2,"t":"blue","k":"dot"},{"i":60,"v":-2,"t":"blue","k":"dot"},{"i":75,"v":-2,"t":"blue","k":"dot"},{"i":76,"v":-2,"t":"blue","k":"dot"},{"i":77,"v":-2,"t":"blue","k":"dot"},{"i":77,"v":-2,"t":"gray","k":"mid"},{"i":78,"v":-2,"t":"blue","k":"dot"},{"i":79,"v":-2,"t":"blue","k":"dot"},{"i":81,"v":-2,"t":"blue","k":"dot"},{"i":12,"v":-3,"t":"red","k":"small"},{"i":39,"v":-3,"t":"pink","k":"dot"},{"i":46,"v":-3,"t":"pink","k":"dot"},{"i":49,"v":-3,"t":"red","k":"small"},{"i":59,"v":-3,"t":"green","k":"dot"},{"i":72,"v":-3,"t":"pink","k":"dot"},{"i":75,"v":-3,"t":"red","k":"small"},{"i":2,"v":-4,"t":"black","k":"dot"},{"i":11,"v":-4,"t":"black","k":"dot"},{"i":57,"v":-4,"t":"black","k":"dot"}],
"dnalevels":[{"v":4,"t":"lime"},{"v":3,"t":"lime"},{"v":2,"t":"l2"},{"v":1,"t":"l1"},{"v":0,"t":"n"},{"v":-1,"t":"r1"},{"v":-2,"t":"r2"},{"v":-3,"t":"r3"},{"v":-4,"t":"red"}],
"dnalabels":[{"label":"0.000","a":0,"b":1,"m":0.5,"t":"amber","ink":"black"},{"label":"0.000","a":1,"b":2,"m":1.5,"t":"red","ink":"white"},{"label":"0.000","a":2,"b":3,"m":2.5,"t":"green","ink":"white"},{"label":"−1.000","a":3,"b":4,"m":3.5,"t":"cyan","ink":"black"},{"label":"−1.000","a":4,"b":5,"m":4.5,"t":"red","ink":"white"}],
"statuslabels":[{"label":"","a":0,"b":0.294,"m":0.1,"t":"red","ink":"white"},{"label":"14.000","a":0.294,"b":1.294,"m":0.794,"t":"lime","ink":"black"},{"label":"11.500","a":1.53,"b":2.515,"m":2.02,"t":"yellow","ink":"black"},{"label":"11.500","a":2.515,"b":3.515,"m":3.015,"t":"red","ink":"white"},{"label":"11.500","a":3.515,"b":4.515,"m":4.015,"t":"lime","ink":"black"},{"label":"10.500","a":4.515,"b":5.515,"m":5.015,"t":"lime","ink":"black"}],
"momlabels":[{"label":"−0.500","a":0.118,"b":1.118,"m":0.618,"t":"royal","ink":"white"},{"label":"−1.500","a":1.118,"b":2.118,"m":1.618,"t":"royal","ink":"white"},{"label":"","a":2.118,"b":2.19,"m":2.15,"t":"lime","ink":"white"}],
"inner":[{"i":3,"v":3,"t":"r"},{"i":6,"v":3,"t":"r"},{"i":7,"v":3,"t":"r"},{"i":8,"v":3,"t":"r"},{"i":34,"v":3,"t":"r"},{"i":35,"v":3,"t":"r"},{"i":36,"v":3,"t":"r"},{"i":40,"v":3,"t":"r"},{"i":43,"v":3,"t":"r"},{"i":46,"v":3,"t":"r"},{"i":47,"v":3,"t":"r"},{"i":69,"v":3,"t":"r"},{"i":70,"v":3,"t":"r"},{"i":71,"v":3,"t":"r"},{"i":15,"v":3,"t":"g"},{"i":79,"v":3,"t":"g"},{"i":80,"v":3,"t":"g"},{"i":81,"v":3,"t":"g"},{"i":82,"v":3,"t":"g"},{"i":83,"v":3,"t":"g"},{"i":6,"v":2,"t":"r"},{"i":7,"v":2,"t":"r"},{"i":8,"v":2,"t":"r"},{"i":9,"v":2,"t":"r"},{"i":36,"v":2,"t":"r"},{"i":37,"v":2,"t":"r"},{"i":38,"v":2,"t":"r"},{"i":39,"v":2,"t":"r"},{"i":40,"v":2,"t":"r"},{"i":44,"v":2,"t":"r"},{"i":45,"v":2,"t":"r"},{"i":46,"v":2,"t":"r"},{"i":81,"v":2,"t":"g"},{"i":82,"v":2,"t":"g"},{"i":83,"v":2,"t":"g"},{"i":84,"v":2,"t":"g"},{"i":85,"v":2,"t":"g"},{"i":8,"v":1,"t":"r"},{"i":9,"v":1,"t":"r"},{"i":10,"v":1,"t":"r"},{"i":11,"v":1,"t":"r"},{"i":12,"v":1,"t":"r"},{"i":43,"v":1,"t":"r"},{"i":44,"v":1,"t":"r"},{"i":45,"v":1,"t":"r"},{"i":46,"v":1,"t":"r"},{"i":47,"v":1,"t":"r"},{"i":48,"v":1,"t":"r"},{"i":49,"v":1,"t":"r"},{"i":84,"v":1,"t":"g"},{"i":85,"v":1,"t":"g"},{"i":86,"v":1,"t":"g"}],
"dots":[{"i":0,"s1":"g","s2":"k","s3":"g","s4":"k","s5":"k","s6":"g","big":"g","m1":"g","m2":"r","m3":"r"},{"i":1,"s1":"g","s2":"g","s3":"g","s4":"k","s5":"g","s6":"g","big":"g","m1":"g","m2":"g","m3":"r"},{"i":2,"s1":"g","s2":"k","s3":"g","s4":"k","s5":"g","s6":"g","big":"g","m1":"g","m2":"g","m3":"r"},{"i":3,"s1":"g","s2":"r","s3":"g","s4":"k","s5":"g","s6":"g","big":"g","m1":"g","m2":"g","m3":"r"},{"i":4,"s1":"g","s2":"k","s3":"g","s4":"k","s5":"g","s6":"g","big":"g","m1":"g","m2":"g","m3":"r"},{"i":5,"s1":"g","s2":"r","s3":"g","s4":"k","s5":"g","s6":"g","big":"g","m1":"r","m2":"g","m3":"r"},{"i":6,"s1":"g","s2":"k","s3":"g","s4":"k","s5":"g","s6":"g","big":"G","m1":"g","m2":"g","m3":"r"},{"i":7,"s1":"g","s2":"g","s3":"g","s4":"g","s5":"g","s6":"g","big":"G","m1":"g","m2":"g","m3":"g"},{"i":8,"s1":"g","s2":"g","s3":"g","s4":"g","s5":"g","s6":"g","big":"G","m1":"g","m2":"g","m3":"g"},{"i":9,"s1":"g","s2":"g","s3":"g","s4":"g","s5":"g","s6":"g","big":"G","m1":"r","m2":"g","m3":"g"},{"i":10,"s1":"g","s2":"k","s3":"g","s4":"g","s5":"g","s6":"g","big":"g","m1":"r","m2":"r","m3":"g"},{"i":11,"s1":"y","s2":"r","s3":"g","s4":"g","s5":"g","s6":"g","big":"k","m1":"r","m2":"r","m3":"g"},{"i":12,"s1":"y","s2":"r","s3":"g","s4":"k","s5":"k","s6":"g","big":"k","m1":"r","m2":"r","m3":"g"},{"i":13,"s1":"r","s2":"r","s3":"g","s4":"k","s5":"k","s6":"g","big":"k","m1":"r","m2":"r","m3":"r"},{"i":14,"s1":"r","s2":"r","s3":"g","s4":"k","s5":"k","s6":"g","big":"r","m1":"r","m2":"r","m3":"r"},{"i":15,"s1":"r","s2":"r","s3":"g","s4":"k","s5":"r","s6":"g","big":"r","m1":"r","m2":"r","m3":"r"},{"i":16,"s1":"r","s2":"r","s3":"g","s4":"r","s5":"r","s6":"k","big":"r","m1":"g","m2":"r","m3":"r"},{"i":17,"s1":"r","s2":"k","s3":"g","s4":"r","s5":"r","s6":"k","big":"r","m1":"g","m2":"r","m3":"r"},{"i":18,"s1":"r","s2":"k","s3":"g","s4":"r","s5":"r","s6":"r","big":"r","m1":"g","m2":"r","m3":"r"},{"i":19,"s1":"r","s2":"k","s3":"g","s4":"r","s5":"r","s6":"r","big":"r","m1":"g","m2":"r","m3":"r"},{"i":20,"s1":"r","s2":"k","s3":"g","s4":"r","s5":"r","s6":"r","big":"r","m1":"g","m2":"r","m3":"r"},{"i":21,"s1":"r","s2":"g","s3":"g","s4":"r","s5":"r","s6":"r","big":"r","m1":"g","m2":"r","m3":"r"},{"i":22,"s1":"r","s2":"k","s3":"g","s4":"r","s5":"r","s6":"r","big":"r","m1":"g","m2":"g","m3":"r"},{"i":23,"s1":"r","s2":"k","s3":"g","s4":"r","s5":"r","s6":"r","big":"r","m1":"g","m2":"g","m3":"r"},{"i":24,"s1":"r","s2":"g","s3":"g","s4":"r","s5":"k","s6":"r","big":"r","m1":"g","m2":"g","m3":"r"},{"i":25,"s1":"r","s2":"g","s3":"r","s4":"r","s5":"k","s6":"r","big":"r","m1":"g","m2":"r","m3":"r"},{"i":26,"s1":"y","s2":"g","s3":"r","s4":"r","s5":"k","s6":"r","big":"k","m1":"g","m2":"g","m3":"r"},{"i":27,"s1":"y","s2":"g","s3":"r","s4":"k","s5":"k","s6":"r","big":"k","m1":"g","m2":"g","m3":"r"},{"i":28,"s1":"y","s2":"k","s3":"r","s4":"k","s5":"k","s6":"r","big":"k","m1":"g","m2":"g","m3":"r"},{"i":29,"s1":"y","s2":"g","s3":"r","s4":"k","s5":"k","s6":"r","big":"k","m1":"g","m2":"g","m3":"r"},{"i":30,"s1":"y","s2":"g","s3":"r","s4":"k","s5":"g","s6":"r","big":"k","m1":"g","m2":"g","m3":"r"},{"i":31,"s1":"y","s2":"k","s3":"r","s4":"k","s5":"g","s6":"r","big":"k","m1":"g","m2":"g","m3":"g"},{"i":32,"s1":"g","s2":"g","s3":"r","s4":"k","s5":"g","s6":"r","big":"g","m1":"g","m2":"g","m3":"g"},{"i":33,"s1":"g","s2":"g","s3":"r","s4":"k","s5":"g","s6":"r","big":"g","m1":"g","m2":"g","m3":"g"},{"i":34,"s1":"g","s2":"g","s3":"r","s4":"k","s5":"g","s6":"r","big":"g","m1":"g","m2":"g","m3":"g"},{"i":35,"s1":"g","s2":"g","s3":"r","s4":"g","s5":"g","s6":"y","big":"g","m1":"g","m2":"g","m3":"g"},{"i":36,"s1":"g","s2":"g","s3":"r","s4":"g","s5":"g","s6":"g","big":"g","m1":"g","m2":"g","m3":"g"},{"i":37,"s1":"g","s2":"k","s3":"r","s4":"g","s5":"g","s6":"g","big":"g","m1":"r","m2":"g","m3":"g"},{"i":38,"s1":"g","s2":"k","s3":"r","s4":"g","s5":"g","s6":"g","big":"g","m1":"r","m2":"g","m3":"g"},{"i":39,"s1":"g","s2":"k","s3":"g","s4":"g","s5":"g","s6":"g","big":"g","m1":"r","m2":"g","m3":"g"},{"i":40,"s1":"g","s2":"g","s3":"g","s4":"g","s5":"g","s6":"g","big":"G","m1":"g","m2":"g","m3":"g"},{"i":41,"s1":"g","s2":"g","s3":"g","s4":"g","s5":"g","s6":"g","big":"g","m1":"r","m2":"r","m3":"g"},{"i":42,"s1":"g","s2":"g","s3":"g","s4":"g","s5":"g","s6":"g","big":"g","m1":"r","m2":"r","m3":"g"},{"i":43,"s1":"g","s2":"g","s3":"g","s4":"g","s5":"g","s6":"g","big":"G","m1":"g","m2":"r","m3":"g"},{"i":44,"s1":"g","s2":"k","s3":"g","s4":"g","s5":"g","s6":"g","big":"G","m1":"r","m2":"g","m3":"g"},{"i":45,"s1":"g","s2":"k","s3":"g","s4":"g","s5":"g","s6":"g","big":"G","m1":"r","m2":"g","m3":"g"},{"i":46,"s1":"g","s2":"k","s3":"g","s4":"g","s5":"k","s6":"g","big":"g","m1":"g","m2":"g","m3":"g"},{"i":47,"s1":"g","s2":"k","s3":"g","s4":"g","s5":"k","s6":"g","big":"g","m1":"g","m2":"r","m3":"g"},{"i":48,"s1":"g","s2":"r","s3":"g","s4":"g","s5":"k","s6":"g","big":"g","m1":"r","m2":"r","m3":"g"},{"i":49,"s1":"y","s2":"r","s3":"g","s4":"k","s5":"k","s6":"g","big":"k","m1":"r","m2":"r","m3":"g"},{"i":50,"s1":"y","s2":"r","s3":"g","s4":"k","s5":"k","s6":"g","big":"k","m1":"r","m2":"r","m3":"r"},{"i":51,"s1":"y","s2":"r","s3":"g","s4":"k","s5":"k","s6":"g","big":"k","m1":"r","m2":"r","m3":"r"},{"i":52,"s1":"y","s2":"r","s3":"g","s4":"k","s5":"r","s6":"g","big":"k","m1":"r","m2":"r","m3":"r"},{"i":53,"s1":"y","s2":"k","s3":"g","s4":"k","s5":"r","s6":"g","big":"k","m1":"r","m2":"r","m3":"r"},{"i":54,"s1":"y","s2":"k","s3":"g","s4":"k","s5":"r","s6":"g","big":"k","m1":"g","m2":"r","m3":"r"},{"i":55,"s1":"y","s2":"k","s3":"g","s4":"k","s5":"r","s6":"g","big":"k","m1":"g","m2":"r","m3":"r"},{"i":56,"s1":"y","s2":"g","s3":"g","s4":"k","s5":"r","s6":"g","big":"k","m1":"g","m2":"r","m3":"r"},{"i":57,"s1":"r","s2":"k","s3":"g","s4":"k","s5":"r","s6":"g","big":"k","m1":"g","m2":"r","m3":"r"},{"i":58,"s1":"r","s2":"r","s3":"g","s4":"k","s5":"r","s6":"g","big":"r","m1":"r","m2":"r","m3":"r"},{"i":59,"s1":"r","s2":"r","s3":"g","s4":"k","s5":"r","s6":"g","big":"r","m1":"r","m2":"r","m3":"r"},{"i":60,"s1":"r","s2":"r","s3":"g","s4":"k","s5":"r","s6":"g","big":"r","m1":"r","m2":"r","m3":"r"},{"i":61,"s1":"r","s2":"r","s3":"g","s4":"r","s5":"r","s6":"k","big":"r","m1":"r","m2":"r","m3":"r"},{"i":62,"s1":"r","s2":"k","s3":"g","s4":"r","s5":"r","s6":"k","big":"r","m1":"r","m2":"r","m3":"r"},{"i":63,"s1":"r","s2":"k","s3":"g","s4":"r","s5":"r","s6":"k","big":"r","m1":"g","m2":"r","m3":"r"},{"i":64,"s1":"y","s2":"k","s3":"g","s4":"r","s5":"k","s6":"r","big":"k","m1":"g","m2":"r","m3":"r"},{"i":65,"s1":"y","s2":"g","s3":"g","s4":"r","s5":"k","s6":"r","big":"k","m1":"g","m2":"g","m3":"r"},{"i":66,"s1":"y","s2":"g","s3":"g","s4":"r","s5":"k","s6":"r","big":"k","m1":"g","m2":"g","m3":"r"},{"i":67,"s1":"y","s2":"g","s3":"g","s4":"r","s5":"k","s6":"r","big":"k","m1":"g","m2":"g","m3":"r"},{"i":68,"s1":"y","s2":"g","s3":"g","s4":"k","s5":"k","s6":"r","big":"k","m1":"g","m2":"g","m3":"r"},{"i":69,"s1":"g","s2":"g","s3":"g","s4":"k","s5":"g","s6":"r","big":"k","m1":"g","m2":"g","m3":"r"},{"i":70,"s1":"g","s2":"k","s3":"g","s4":"k","s5":"g","s6":"r","big":"g","m1":"g","m2":"g","m3":"r"},{"i":71,"s1":"g","s2":"k","s3":"g","s4":"k","s5":"g","s6":"r","big":"g","m1":"g","m2":"g","m3":"g"},{"i":72,"s1":"g","s2":"k","s3":"g","s4":"k","s5":"g","s6":"r","big":"k","m1":"r","m2":"g","m3":"g"},{"i":73,"s1":"r","s2":"r","s3":"g","s4":"k","s5":"g","s6":"r","big":"k","m1":"r","m2":"g","m3":"g"},{"i":74,"s1":"y","s2":"r","s3":"g","s4":"r","s5":"g","s6":"r","big":"k","m1":"r","m2":"g","m3":"g"},{"i":75,"s1":"y","s2":"r","s3":"g","s4":"r","s5":"g","s6":"r","big":"k","m1":"r","m2":"g","m3":"g"},{"i":76,"s1":"r","s2":"r","s3":"g","s4":"r","s5":"k","s6":"r","big":"k","m1":"r","m2":"r","m3":"g"},{"i":77,"s1":"r","s2":"r","s3":"g","s4":"r","s5":"r","s6":"r","big":"R","m1":"r","m2":"r","m3":"g"},{"i":78,"s1":"r","s2":"r","s3":"g","s4":"r","s5":"r","s6":"r","big":"R","m1":"r","m2":"r","m3":"g"},{"i":79,"s1":"r","s2":"r","s3":"r","s4":"r","s5":"r","s6":"r","big":"R","m1":"r","m2":"r","m3":"r"},{"i":80,"s1":"r","s2":"r","s3":"r","s4":"r","s5":"r","s6":"r","big":"R","m1":"r","m2":"r","m3":"r"},{"i":81,"s1":"r","s2":"r","s3":"r","s4":"r","s5":"r","s6":"r","big":"R","m1":"r","m2":"r","m3":"r"},{"i":82,"s1":"r","s2":"k","s3":"r","s4":"r","s5":"r","s6":"r","big":"R","m1":"r","m2":"r","m3":"r"},{"i":83,"s1":"r","s2":"k","s3":"r","s4":"r","s5":"r","s6":"r","big":"R","m1":"r","m2":"r","m3":"r"},{"i":84,"s1":"r","s2":"k","s3":"r","s4":"r","s5":"r","s6":"r","big":"R","m1":"g","m2":"r","m3":"r"},{"i":85,"s1":"r","s2":"g","s3":"r","s4":"r","s5":"r","s6":"r","big":"r","m1":"g","m2":"r","m3":"r"},{"i":86,"s1":"y","s2":"k","s3":"r","s4":"r","s5":"r","s6":"r","big":"r","m1":"g","m2":"g","m3":"r"}]
},
"vconcat":[
{"width":2151,"height":54,"data":{"values":[{"text":"Pippo98 published on TradingView.com, May 27, 2025 17:00 UTC+2"}]},"mark":{"type":"text","align":"left","baseline":"middle","fontSize":23.9,"fill":"#e8e8ea"},"encoding":{"x":{"datum":-0.49,"scale":{"domain":[-0.49,105.3]},"axis":null},"y":{"datum":0.41,"scale":{"domain":[0,1]},"axis":null},"text":{"field":"text"}}},
{"width":2151,"height":965,"view":{"fill":"white","stroke":"#787b86","strokeWidth":1},"resolve":{"scale":{"y":"independent"}},"layer":[
{"layer":[
{"data":{"name":"lines"},"transform":[{"filter":{"field":"i","range":[-1,24.22]}}],"mark":{"type":"area","fill":"#00ff00","opacity":0.05},"encoding":{"x":{"field":"i","type":"quantitative","axis":null,"scale":{"domain":[-0.49,105.3]}},"y":{"field":"lime","type":"quantitative","axis":null,"scale":{"domain":[3254.525,3375.15]}},"y2":{"field":"mag"}}},
{"data":{"name":"lines"},"transform":[{"filter":{"field":"i","range":[24.22,38.39]}}],"mark":{"type":"area","fill":"#ff00ff","opacity":0.06},"encoding":{"x":{"field":"i","type":"quantitative","axis":null,"scale":{"domain":[-0.49,105.3]}},"y":{"field":"lime","type":"quantitative","axis":null,"scale":{"domain":[3254.525,3375.15]}},"y2":{"field":"mag"}}},
{"data":{"name":"lines"},"transform":[{"filter":{"field":"i","range":[38.39,78.37]}}],"mark":{"type":"area","fill":"#00ff00","opacity":0.05},"encoding":{"x":{"field":"i","type":"quantitative","axis":null,"scale":{"domain":[-0.49,105.3]}},"y":{"field":"lime","type":"quantitative","axis":null,"scale":{"domain":[3254.525,3375.15]}},"y2":{"field":"mag"}}},
{"data":{"name":"lines"},"transform":[{"filter":{"field":"i","range":[78.37,87]}}],"mark":{"type":"area","fill":"#ff00ff","opacity":0.06},"encoding":{"x":{"field":"i","type":"quantitative","axis":null,"scale":{"domain":[-0.49,105.3]}},"y":{"field":"lime","type":"quantitative","axis":null,"scale":{"domain":[3254.525,3375.15]}},"y2":{"field":"mag"}}},
{"data":{"name":"lines"},"mark":{"type":"line","clip":true,"invalid":"filter","stroke":"#999999","strokeWidth":2,"opacity":0.6},"encoding":{"x":{"field":"i","type":"quantitative","axis":null,"scale":{"domain":[-0.49,105.3]}},"y":{"field":"gray","type":"quantitative","axis":null,"scale":{"domain":[3254.525,3375.15]}}}},
{"data":{"name":"lines"},"mark":{"type":"line","clip":true,"invalid":"filter","stroke":"#00ff00","strokeWidth":2,"opacity":0.3},"encoding":{"x":{"field":"i","type":"quantitative","axis":null,"scale":{"domain":[-0.49,105.3]}},"y":{"field":"lg","type":"quantitative","axis":null,"scale":{"domain":[3254.525,3375.15]}}}},
{"data":{"name":"lines"},"mark":{"type":"line","clip":true,"invalid":"filter","stroke":"#ff0000","strokeWidth":2,"opacity":0.3},"encoding":{"x":{"field":"i","type":"quantitative","axis":null,"scale":{"domain":[-0.49,105.3]}},"y":{"field":"lr","type":"quantitative","axis":null,"scale":{"domain":[3254.525,3375.15]}}}},
{"data":{"name":"lines"},"mark":{"type":"line","clip":true,"invalid":"filter","stroke":"#0000ff","strokeWidth":2,"opacity":0.3},"encoding":{"x":{"field":"i","type":"quantitative","axis":null,"scale":{"domain":[-0.49,105.3]}},"y":{"field":"lb","type":"quantitative","axis":null,"scale":{"domain":[3254.525,3375.15]}}}},
{"data":{"name":"lines"},"mark":{"type":"line","clip":true,"invalid":"filter","stroke":"#ff00ff","strokeWidth":2.2},"encoding":{"x":{"field":"i","type":"quantitative","axis":null,"scale":{"domain":[-0.49,105.3]}},"y":{"field":"mag","type":"quantitative","axis":null,"scale":{"domain":[3254.525,3375.15]}}}},
{"data":{"name":"lines"},"mark":{"type":"line","clip":true,"invalid":"filter","stroke":"#00ff00","strokeWidth":2.2},"encoding":{"x":{"field":"i","type":"quantitative","axis":null,"scale":{"domain":[-0.49,105.3]}},"y":{"field":"lime","type":"quantitative","axis":null,"scale":{"domain":[3254.525,3375.15]}}}},
{"data":{"name":"lines"},"mark":{"type":"line","clip":true,"invalid":"filter","stroke":"#0000ff","strokeWidth":4.2},"encoding":{"x":{"field":"i","type":"quantitative","axis":null,"scale":{"domain":[-0.49,105.3]}},"y":{"field":"blue","type":"quantitative","axis":null,"scale":{"domain":[3254.525,3375.15]}}}},
{"data":{"name":"lines"},"mark":{"type":"line","clip":true,"invalid":"filter","stroke":"#ff0000","strokeWidth":4.2},"encoding":{"x":{"field":"i","type":"quantitative","axis":null,"scale":{"domain":[-0.49,105.3]}},"y":{"field":"red","type":"quantitative","axis":null,"scale":{"domain":[3254.525,3375.15]}}}},
{"data":{"name":"bars"},"mark":{"type":"rule","strokeWidth":2},"encoding":{"x":{"field":"i","type":"quantitative","axis":null,"scale":{"domain":[-0.49,105.3]}},"y":{"field":"l","type":"quantitative","axis":null,"scale":{"domain":[3254.525,3375.15]}},"y2":{"field":"h"},"stroke":{"field":"w","type":"nominal","legend":null,"scale":{"domain":["lime","green","red","maroon","black","white","yellow","blue","magenta","cyan","amber","pink","gray","silver","sea","orange","rose","teal","brown","royal","wine","muted","g","r","k","y","G","R"]}}}},
{"data":{"name":"bars"},"mark":{"type":"bar","size":13,"strokeWidth":2.5},"encoding":{"x":{"field":"i","type":"quantitative","axis":null,"scale":{"domain":[-0.49,105.3],"padding":0}},"y":{"field":"o","type":"quantitative","axis":null,"scale":{"domain":[3254.525,3375.15]}},"y2":{"field":"c"},"fill":{"field":"f","type":"nominal","legend":null,"scale":{"domain":["lime","green","red","maroon","black","white","yellow","blue","magenta","cyan","amber","pink","gray","silver","sea","orange","rose","teal","brown","royal","wine","muted","g","r","k","y","G","R"]}},"stroke":{"field":"e","type":"nominal","legend":null,"scale":{"domain":["lime","green","red","maroon","black","white","yellow","blue","magenta","cyan","amber","pink","gray","silver","sea","orange","rose","teal","brown","royal","wine","muted","g","r","k","y","G","R"]}}}},
{"data":{"values":[{"p":3299.555}]},"mark":{"type":"rule","stroke":"#00ff00","strokeWidth":2,"strokeDash":[2,4]},"encoding":{"x":{"datum":-0.49,"axis":null,"scale":{"domain":[-0.49,105.3]}},"x2":{"datum":97.2},"y":{"field":"p","type":"quantitative","axis":null,"scale":{"domain":[3254.525,3375.15]}}}},
{"data":{"name":"rings"},"mark":{"type":"point","fill":"white","filled":false,"strokeWidth":6,"size":254},"encoding":{"x":{"field":"i","type":"quantitative","axis":null,"scale":{"domain":[-0.49,105.3]}},"y":{"field":"p","type":"quantitative","axis":null,"scale":{"domain":[3254.525,3375.15]}},"stroke":{"field":"t","type":"nominal","legend":null,"scale":{"domain":["lime","green","red","maroon","black","white","yellow","blue","magenta","cyan","amber","pink","gray","silver","sea","orange","rose","teal","brown","royal","wine","muted","g","r","k","y","G","R"]}}}},
{"data":{"name":"marks"},"mark":{"type":"circle"},"encoding":{"x":{"field":"i","type":"quantitative","axis":null,"scale":{"domain":[-0.49,105.3]}},"y":{"field":"p","type":"quantitative","axis":null,"scale":{"domain":[3254.525,3375.15]}},"fill":{"field":"t","type":"nominal","legend":null,"scale":{"domain":["lime","green","red","maroon","black","white","yellow","blue","magenta","cyan","amber","pink","gray","silver","sea","orange","rose","teal","brown","royal","wine","muted","g","r","k","y","G","R"]}},"size":{"field":"k","type":"nominal","legend":null,"scale":{"type":"ordinal","domain":["small","mid","dot","large","inner"],"range":[38,154,201,452,113]}}}},
{"data":{"name":"crosses"},"mark":{"type":"point","shape":"cross","filled":true,"size":324},"encoding":{"x":{"field":"i","type":"quantitative","axis":null,"scale":{"domain":[-0.49,105.3]}},"y":{"field":"p","type":"quantitative","axis":null,"scale":{"domain":[3254.525,3375.15]}},"fill":{"field":"t","type":"nominal","legend":null,"scale":{"domain":["lime","green","red","maroon","black","white","yellow","blue","magenta","cyan","amber","pink","gray","silver","sea","orange","rose","teal","brown","royal","wine","muted","g","r","k","y","G","R"]}}}},
{"data":{"name":"flags"},"mark":{"type":"rect","cornerRadius":4},"encoding":{"x":{"field":"left","type":"quantitative","axis":null,"scale":{"domain":[-0.49,105.3]}},"x2":{"field":"right"},"y":{"field":"top","type":"quantitative","axis":null,"scale":{"domain":[3254.525,3375.15]}},"y2":{"field":"bot"},"fill":{"field":"t","type":"nominal","legend":null,"scale":{"domain":["lime","green","red","maroon","black","white","yellow","blue","magenta","cyan","amber","pink","gray","silver","sea","orange","rose","teal","brown","royal","wine","muted","g","r","k","y","G","R"]}}}},
{"data":{"name":"flags"},"transform":[{"filter":"datum.label=='BB Kombi'"}],"mark":{"type":"point","filled":true,"shape":"M-0.5,-0.02L0.5,-0.02L0,0.58Z","size":1936},"encoding":{"x":{"field":"i","type":"quantitative","axis":null,"scale":{"domain":[-0.49,105.3]}},"y":{"field":"bot","type":"quantitative","axis":null,"scale":{"domain":[3254.525,3375.15]}},"fill":{"field":"t","type":"nominal","legend":null,"scale":{"domain":["lime","green","red","maroon","black","white","yellow","blue","magenta","cyan","amber","pink","gray","silver","sea","orange","rose","teal","brown","royal","wine","muted","g","r","k","y","G","R"]}}}},
{"data":{"name":"flags"},"transform":[{"filter":"datum.label!='BB Kombi'"}],"mark":{"type":"point","filled":true,"shape":"M-0.5,0.02L0.5,0.02L0,-0.58Z","size":1936},"encoding":{"x":{"field":"i","type":"quantitative","axis":null,"scale":{"domain":[-0.49,105.3]}},"y":{"field":"top","type":"quantitative","axis":null,"scale":{"domain":[3254.525,3375.15]}},"fill":{"field":"t","type":"nominal","legend":null,"scale":{"domain":["lime","green","red","maroon","black","white","yellow","blue","magenta","cyan","amber","pink","gray","silver","sea","orange","rose","teal","brown","royal","wine","muted","g","r","k","y","G","R"]}}}},
{"data":{"name":"flags"},"mark":{"type":"text","fontSize":19.5,"fill":"white","baseline":"middle"},"encoding":{"x":{"field":"i","type":"quantitative","axis":null,"scale":{"domain":[-0.49,105.3]}},"y":{"field":"mid","type":"quantitative","axis":null,"scale":{"domain":[3254.525,3375.15]}},"text":{"field":"label"}}},
{"data":{"name":"legend"},"mark":{"type":"text","fontSize":23.5,"align":"left","baseline":"middle"},"encoding":{"x":{"field":"i","type":"quantitative","axis":null,"scale":{"domain":[-0.49,105.3]}},"y":{"datum":3371.27,"axis":null,"scale":{"domain":[3254.525,3375.15]}},"text":{"field":"text"},"fill":{"field":"ink","type":"nominal","legend":null,"scale":{"domain":["lime","green","red","maroon","black","white","yellow","blue","magenta","cyan","amber","pink","gray","silver","sea","orange","rose","teal","brown","royal","wine","muted","g","r","k","y","G","R"]}}}},
{"data":{"values":[{"i":86.96,"p":3257.65}]},"mark":{"type":"point","filled":false,"stroke":"#9c27b0","strokeWidth":2.5,"size":1134},"encoding":{"x":{"field":"i","type":"quantitative","axis":null,"scale":{"domain":[-0.49,105.3]}},"y":{"field":"p","type":"quantitative","axis":null,"scale":{"domain":[3254.525,3375.15]}}}},
{"data":{"values":[{"i":86.96,"p":3257.65}]},"mark":{"type":"point","filled":true,"fill":"#9c27b0","shape":"M0.15,-0.5L-0.4,0.12L-0.02,0.12L-0.15,0.5L0.4,-0.12L0.02,-0.12Z","size":1936},"encoding":{"x":{"field":"i","type":"quantitative","axis":null,"scale":{"domain":[-0.49,105.3]}},"y":{"field":"p","type":"quantitative","axis":null,"scale":{"domain":[3254.525,3375.15]}}}},
{"data":{"values":[{"i":87.64,"p":3259.4}]},"mark":{"type":"circle","fill":"#f23645","size":78},"encoding":{"x":{"field":"i","type":"quantitative","axis":null,"scale":{"domain":[-0.49,105.3]}},"y":{"field":"p","type":"quantitative","axis":null,"scale":{"domain":[3254.525,3375.15]}}}}
]},
{"layer":[
{"data":{"name":"pricelabels"},"transform":[{"filter":"datum.label!='59:42'"}],"mark":{"type":"rect","cornerRadius":2},"encoding":{"x":{"datum":97.54,"axis":null,"scale":{"domain":[-0.49,105.3]}},"x2":{"datum":104.82},"y":{"field":"a","type":"quantitative","axis":null,"scale":{"domain":[28.38,0]}},"y2":{"field":"b"},"fill":{"field":"t","type":"nominal","legend":null,"scale":{"domain":["lime","green","red","maroon","black","white","yellow","blue","magenta","cyan","amber","pink","gray","silver","sea","orange","rose","teal","brown","royal","wine","muted","g","r","k","y","G","R"]}}}},
{"data":{"name":"pricelabels"},"mark":{"type":"text","fontSize":24,"align":"left","baseline":"middle","clip":true},"encoding":{"x":{"datum":98.37,"axis":null,"scale":{"domain":[-0.49,105.3]}},"y":{"field":"m","type":"quantitative","axis":null,"scale":{"domain":[28.38,0]}},"text":{"field":"label"},"fill":{"field":"ink","type":"nominal","legend":null,"scale":{"domain":["lime","green","red","maroon","black","white","yellow","blue","magenta","cyan","amber","pink","gray","silver","sea","orange","rose","teal","brown","royal","wine","muted","g","r","k","y","G","R"]}}}},
{"data":{"values":[{"a":0,"b":2}]},"mark":{"type":"rect","fill":"white"},"encoding":{"x":{"datum":97.4,"axis":null,"scale":{"domain":[-0.49,105.3]}},"x2":{"datum":105.25},"y":{"field":"a","type":"quantitative","axis":null,"scale":{"domain":[28.38,0]}},"y2":{"field":"b"}}},
{"data":{"values":[{"a":0.235,"b":1.735}]},"mark":{"type":"rect","fill":"white","stroke":"#f0f3fa","strokeWidth":1.5,"cornerRadius":6},"encoding":{"x":{"datum":97.84,"axis":null,"scale":{"domain":[-0.49,105.3]}},"x2":{"datum":104.92},"y":{"field":"a","type":"quantitative","axis":null,"scale":{"domain":[28.38,0]}},"y2":{"field":"b"}}},
{"data":{"values":[{"m":0.985,"label":"USD"}]},"mark":{"type":"text","fontSize":22,"align":"left","baseline":"middle","fill":"#131722"},"encoding":{"x":{"datum":98.77,"axis":null,"scale":{"domain":[-0.49,105.3]}},"y":{"field":"m","type":"quantitative","axis":null,"scale":{"domain":[28.38,0]}},"text":{"field":"label"}}}
]}
]},
{"width":2151,"height":162,"view":{"fill":"white","stroke":"#787b86","strokeWidth":1},"resolve":{"scale":{"y":"independent"}},"layer":[
{"layer":[
{"data":{"name":"dna"},"mark":{"type":"circle"},"encoding":{"x":{"field":"i","type":"quantitative","axis":null,"scale":{"domain":[-0.49,105.3]}},"y":{"field":"v","type":"quantitative","axis":null,"scale":{"domain":[-5.023,5.684]}},"fill":{"field":"t","type":"nominal","legend":null,"scale":{"domain":["lime","green","red","maroon","black","white","yellow","blue","magenta","cyan","amber","pink","gray","silver","sea","orange","rose","teal","brown","royal","wine","muted","g","r","k","y","G","R"]}},"size":{"field":"k","type":"nominal","legend":null,"scale":{"type":"ordinal","domain":["small","mid","dot"],"range":[50,95,201]}}}},
{"data":{"name":"dnalevels"},"mark":{"type":"rule","strokeWidth":2,"strokeDash":[9,11]},"encoding":{"x":{"datum":-0.49,"axis":null,"scale":{"domain":[-0.49,105.3]}},"x2":{"datum":97.2},"y":{"field":"v","type":"quantitative","axis":null,"scale":{"domain":[-5.023,5.684]}},"stroke":{"field":"t","type":"nominal","legend":null,"scale":{"domain":["lime","l2","l1","n","r1","r2","r3","red"],"range":["#00ff00","#40ff40","#80ff80","#d0d0d0","#ff8888","#ff6060","#ff3030","#ff0000"]}}}},
{"data":{"values":[{"i":49,"v":5.29,"label":"ICE DNA Code"}]},"mark":{"type":"text","fontSize":23.5,"baseline":"middle","clip":true,"fill":"#131722"},"encoding":{"x":{"field":"i","type":"quantitative","axis":null,"scale":{"domain":[-0.49,105.3]}},"y":{"field":"v","type":"quantitative","axis":null,"scale":{"domain":[-5.023,5.684]}},"text":{"field":"label"}}},
{"data":{"values":[{"v":5.684}]},"mark":{"type":"rule","stroke":"#2a2e39","strokeWidth":3},"encoding":{"x":{"datum":-0.49,"axis":null,"scale":{"domain":[-0.49,105.3]}},"x2":{"datum":105.3},"y":{"field":"v","type":"quantitative","axis":null,"scale":{"domain":[-5.023,5.684]}}}}
]},
{"layer":[
{"data":{"name":"dnalabels"},"transform":[{"filter":"datum.label=='0.000'"}],"mark":{"type":"rect","cornerRadius":2},"encoding":{"x":{"datum":97.54,"axis":null,"scale":{"domain":[-0.49,105.3]}},"x2":{"datum":102.16},"y":{"field":"a","type":"quantitative","axis":null,"scale":{"domain":[4.765,0]}},"y2":{"field":"b"},"fill":{"field":"t","type":"nominal","legend":null,"scale":{"domain":["lime","green","red","maroon","black","white","yellow","blue","magenta","cyan","amber","pink","gray","silver","sea","orange","rose","teal","brown","royal","wine","muted","g","r","k","y","G","R"]}}}},
{"data":{"name":"dnalabels"},"transform":[{"filter":"datum.label!='0.000'"}],"mark":{"type":"rect","cornerRadius":2},"encoding":{"x":{"datum":97.54,"axis":null,"scale":{"domain":[-0.49,105.3]}},"x2":{"datum":102.95},"y":{"field":"a","type":"quantitative","axis":null,"scale":{"domain":[4.765,0]}},"y2":{"field":"b"},"fill":{"field":"t","type":"nominal","legend":null,"scale":{"domain":["lime","green","red","maroon","black","white","yellow","blue","magenta","cyan","amber","pink","gray","silver","sea","orange","rose","teal","brown","royal","wine","muted","g","r","k","y","G","R"]}}}},
{"data":{"name":"dnalabels"},"mark":{"type":"text","fontSize":24,"align":"left","baseline":"middle","clip":true},"encoding":{"x":{"datum":98.37,"axis":null,"scale":{"domain":[-0.49,105.3]}},"y":{"field":"m","type":"quantitative","axis":null,"scale":{"domain":[4.765,0]}},"text":{"field":"label"},"fill":{"field":"ink","type":"nominal","legend":null,"scale":{"domain":["lime","green","red","maroon","black","white","yellow","blue","magenta","cyan","amber","pink","gray","silver","sea","orange","rose","teal","brown","royal","wine","muted","g","r","k","y","G","R"]}}}}
]}
]},
{"width":2151,"height":168,"view":{"fill":"white","stroke":"#787b86","strokeWidth":1},"resolve":{"scale":{"y":"independent"}},"layer":[
{"layer":[
{"data":{"name":"dots"},"transform":[{"fold":["s1","s2","s3","s4","s5","s6"],"as":["row","tone"]},{"lookup":"row","from":{"data":{"name":"levels"},"key":"row","fields":["level"]}}],"mark":{"type":"circle","size":201},"encoding":{"x":{"field":"i","type":"quantitative","axis":null,"scale":{"domain":[-0.49,105.3]}},"y":{"field":"level","type":"quantitative","axis":null,"scale":{"domain":[0.089,10.09]}},"fill":{"field":"tone","type":"nominal","legend":null,"scale":{"domain":["lime","green","red","maroon","black","white","yellow","blue","magenta","cyan","amber","pink","gray","silver","sea","orange","rose","teal","brown","royal","wine","muted","g","r","k","y","G","R"]}}}},
{"data":{"name":"dots"},"mark":{"type":"circle"},"encoding":{"x":{"field":"i","type":"quantitative","axis":null,"scale":{"domain":[-0.49,105.3]}},"y":{"datum":8.48,"axis":null,"scale":{"domain":[0.089,10.09]}},"fill":{"field":"big","type":"nominal","legend":null,"scale":{"domain":["lime","green","red","maroon","black","white","yellow","blue","magenta","cyan","amber","pink","gray","silver","sea","orange","rose","teal","brown","royal","wine","muted","g","r","k","y","G","R"]}},"size":{"field":"big","type":"nominal","legend":null,"scale":{"type":"ordinal","domain":["g","k","r","G","R"],"range":[113,113,113,201,201]}}}},
{"data":{"values":[{"i":49,"v":9.67,"label":"ICE Trading Deluxe Big Point"},{"i":49,"v":7.23,"label":"Von oben: Status / Kerzenfarbe / Wolkenfarbe / Trend / Setter / Welle"}]},"mark":{"type":"text","fontSize":23.5,"baseline":"middle","clip":true,"fill":"#131722"},"encoding":{"x":{"field":"i","type":"quantitative","axis":null,"scale":{"domain":[-0.49,105.3]}},"y":{"field":"v","type":"quantitative","axis":null,"scale":{"domain":[0.089,10.09]}},"text":{"field":"label"}}},
{"data":{"values":[{"v":10.09}]},"mark":{"type":"rule","stroke":"#2a2e39","strokeWidth":3},"encoding":{"x":{"datum":-0.49,"axis":null,"scale":{"domain":[-0.49,105.3]}},"x2":{"datum":105.3},"y":{"field":"v","type":"quantitative","axis":null,"scale":{"domain":[0.089,10.09]}}}}
]},
{"layer":[
{"data":{"name":"statuslabels"},"mark":{"type":"rect","cornerRadius":2,"clip":true},"encoding":{"x":{"datum":97.54,"axis":null,"scale":{"domain":[-0.49,105.3]}},"x2":{"datum":102.95},"y":{"field":"a","type":"quantitative","axis":null,"scale":{"domain":[4.941,0]}},"y2":{"field":"b"},"fill":{"field":"t","type":"nominal","legend":null,"scale":{"domain":["lime","green","red","maroon","black","white","yellow","blue","magenta","cyan","amber","pink","gray","silver","sea","orange","rose","teal","brown","royal","wine","muted","g","r","k","y","G","R"]}}}},
{"data":{"name":"statuslabels"},"mark":{"type":"text","fontSize":24,"align":"left","baseline":"middle","clip":true},"encoding":{"x":{"datum":98.37,"axis":null,"scale":{"domain":[-0.49,105.3]}},"y":{"field":"m","type":"quantitative","axis":null,"scale":{"domain":[4.941,0]}},"text":{"field":"label"},"fill":{"field":"ink","type":"nominal","legend":null,"scale":{"domain":["lime","green","red","maroon","black","white","yellow","blue","magenta","cyan","amber","pink","gray","silver","sea","orange","rose","teal","brown","royal","wine","muted","g","r","k","y","G","R"]}}}}
]}
]},
{"width":2151,"height":80,"view":{"fill":"white"},"resolve":{"scale":{"y":"independent"}},"layer":[
{"layer":[
{"data":{"name":"dots"},"transform":[{"fold":["m1","m2","m3"],"as":["row","tone"]},{"lookup":"row","from":{"data":{"name":"levels"},"key":"row","fields":["level"]}}],"mark":{"type":"circle","size":201},"encoding":{"x":{"field":"i","type":"quantitative","axis":null,"scale":{"domain":[-0.49,105.3]}},"y":{"field":"level","type":"quantitative","axis":null,"scale":{"domain":[0.4136,3.915]}},"fill":{"field":"tone","type":"nominal","legend":null,"scale":{"domain":["lime","green","red","maroon","black","white","yellow","blue","magenta","cyan","amber","pink","gray","silver","sea","orange","rose","teal","brown","royal","wine","muted","g","r","k","y","G","R"]}}}},
{"data":{"name":"inner"},"mark":{"type":"circle","size":38},"encoding":{"x":{"field":"i","type":"quantitative","axis":null,"scale":{"domain":[-0.49,105.3]}},"y":{"field":"v","type":"quantitative","axis":null,"scale":{"domain":[0.4136,3.915]}},"fill":{"field":"t","type":"nominal","legend":null,"scale":{"domain":["lime","green","red","maroon","black","white","yellow","blue","magenta","cyan","amber","pink","gray","silver","sea","orange","rose","teal","brown","royal","wine","muted","g","r","k","y","G","R"]}}}},
{"data":{"values":[{"i":49,"v":3.93,"label":"Momentum Status Indikator"}]},"mark":{"type":"text","fontSize":23.5,"baseline":"middle","clip":true,"fill":"#131722"},"encoding":{"x":{"field":"i","type":"quantitative","axis":null,"scale":{"domain":[-0.49,105.3]}},"y":{"field":"v","type":"quantitative","axis":null,"scale":{"domain":[0.4136,3.915]}},"text":{"field":"label"}}},
{"data":{"values":[{"v":3.915}]},"mark":{"type":"rule","stroke":"#2a2e39","strokeWidth":3},"encoding":{"x":{"datum":-0.49,"axis":null,"scale":{"domain":[-0.49,105.3]}},"x2":{"datum":105.3},"y":{"field":"v","type":"quantitative","axis":null,"scale":{"domain":[0.4136,3.915]}}}}
]},
{"layer":[
{"data":{"name":"momlabels"},"mark":{"type":"rect","cornerRadius":2},"encoding":{"x":{"datum":97.54,"axis":null,"scale":{"domain":[-0.49,105.3]}},"x2":{"datum":102.95},"y":{"field":"a","type":"quantitative","axis":null,"scale":{"domain":[2.353,0]}},"y2":{"field":"b"},"fill":{"field":"t","type":"nominal","legend":null,"scale":{"domain":["lime","green","red","maroon","black","white","yellow","blue","magenta","cyan","amber","pink","gray","silver","sea","orange","rose","teal","brown","royal","wine","muted","g","r","k","y","G","R"]}}}},
{"data":{"name":"momlabels"},"mark":{"type":"text","fontSize":24,"align":"left","baseline":"middle","fill":"white"},"encoding":{"x":{"datum":98.37,"axis":null,"scale":{"domain":[-0.49,105.3]}},"y":{"field":"m","type":"quantitative","axis":null,"scale":{"domain":[2.353,0]}},"text":{"field":"label"}}}
]}
]},
{"width":2151,"height":50,"view":{"fill":"white"},"data":{"values":[{"i":3},{"i":9},{"i":15},{"i":26},{"i":32},{"i":38},{"i":49},{"i":55},{"i":61},{"i":70},{"i":76},{"i":82},{"i":88},{"i":94}]},"mark":{"type":"rule","opacity":0},"encoding":{"x":{"field":"i","type":"quantitative","scale":{"domain":[-0.49,105.3]},"axis":{"values":[3,9,15,26,32,38,49,55,61,70,76,82,88,94],"labelExpr":"['22','06:00','12:00','23','06:00','12:00','26','06:00','12:00','27','06:00','12:00','18:00','28'][indexof([3,9,15,26,32,38,49,55,61,70,76,82,88,94],datum.value)]","title":null,"domain":false,"ticks":false,"grid":false,"orient":"top","labelPadding":-38,"labelBaseline":"bottom","labelFontSize":22,"labelFont":"Inter","labelColor":"#b2b5be","labelFlush":false,"labelOverlap":false,"labelBound":false,"labelFontWeight":{"condition":{"test":"datum.value==49","value":"bold"},"value":"normal"}}}}},
{"width":2151,"height":70,"layer":[
{"data":{"values":[{"i":0.44}]},"mark":{"type":"point","filled":true,"fill":"#e8e8ea","opacity":1,"size":5776,"shape":"M-0.5,-0.26H-0.1V0.26H-0.3V-0.02H-0.5ZM0.22,-0.26H0.5L0.27,0.26H-0.02ZM0.1,-0.14A0.09,0.09 0 1 1 -0.08,-0.14A0.09,0.09 0 1 1 0.1,-0.14Z"},"encoding":{"x":{"field":"i","type":"quantitative","axis":null,"scale":{"domain":[-0.49,105.3]}},"y":{"datum":0.48,"axis":null,"scale":{"domain":[0,1]}}}},
{"data":{"values":[{"i":1.77,"label":"TradingView"}]},"mark":{"type":"text","fontSize":25,"align":"left","baseline":"middle","fill":"#d1d4dc"},"encoding":{"x":{"field":"i","type":"quantitative","axis":null,"scale":{"domain":[-0.49,105.3]}},"y":{"datum":0.48,"axis":null,"scale":{"domain":[0,1]}},"text":{"field":"label"}}}
]}
]}
